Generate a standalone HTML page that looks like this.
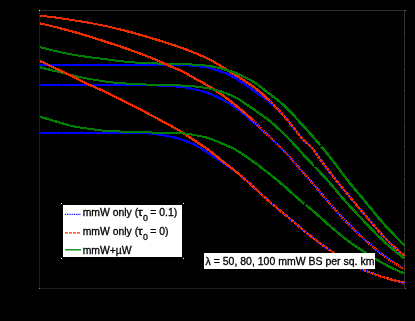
<!DOCTYPE html>
<html><head><meta charset="utf-8">
<style>
html,body{margin:0;padding:0;background:#000;}
body{width:415px;height:321px;overflow:hidden;}
svg{display:block;}
text{font-family:"Liberation Sans",sans-serif;fill:#000;stroke:#000;stroke-width:0.3px;}
.t{filter:grayscale(1);}
</style></head><body>
<svg width="415" height="321" viewBox="0 0 415 321">
<rect x="0" y="0" width="415" height="321" fill="#000"/>
<!-- axes -->
<g shape-rendering="crispEdges">
<rect x="39" y="10" width="1" height="279" fill="#1e1e1e"/>
<rect x="39" y="288" width="367" height="1" fill="#1e1e1e"/>
<rect x="40" y="10" width="365" height="1" fill="#2e2e2e"/>
<rect x="404" y="11" width="1" height="277" fill="#383838"/>
<rect x="404" y="38" width="1" height="1" fill="#000"/>
<rect x="404" y="66" width="1" height="1" fill="#000"/>
<rect x="404" y="93" width="1" height="1" fill="#000"/>
<rect x="404" y="121" width="1" height="1" fill="#000"/>
<rect x="404" y="149" width="1" height="1" fill="#000"/>
<rect x="404" y="176" width="1" height="1" fill="#000"/>
<rect x="404" y="204" width="1" height="1" fill="#000"/>
<rect x="404" y="232" width="1" height="1" fill="#000"/>
<rect x="404" y="259" width="1" height="1" fill="#000"/>
<rect x="39" y="10" width="1" height="1" fill="#e0e0e0"/>
<rect x="405" y="10" width="1" height="1" fill="#707070"/>
<rect x="39" y="288" width="1" height="1" fill="#808080"/>
<rect x="405" y="288" width="1" height="1" fill="#808080"/>
</g>
<g stroke-linejoin="round" shape-rendering="crispEdges">
<path d="M40.0,64.9 L41.0,64.9 L42.0,64.9 L43.0,64.9 L44.0,64.9 L45.0,64.9 L46.0,64.9 L47.0,64.9 L48.0,64.9 L49.0,64.9 L50.0,64.9 L51.0,64.9 L52.0,64.9 L53.0,64.9 L54.0,64.9 L55.0,64.9 L56.0,64.9 L57.0,64.9 L58.0,64.9 L59.0,64.9 L60.0,64.9 L61.0,64.9 L62.0,64.9 L63.0,64.9 L64.0,64.9 L65.0,64.9 L66.0,64.9 L67.0,64.9 L68.0,64.9 L69.0,64.9 L70.0,64.9 L71.0,64.9 L72.0,64.9 L73.0,64.9 L74.0,64.9 L75.0,64.9 L76.0,64.9 L77.0,64.9 L78.0,64.9 L79.0,64.9 L80.0,64.9 L81.0,64.9 L82.0,64.9 L83.0,64.9 L84.0,64.9 L85.0,64.9 L86.0,64.9 L87.0,64.9 L88.0,64.9 L89.0,64.9 L90.0,64.9 L91.0,64.9 L92.0,64.9 L93.0,64.9 L94.0,64.9 L95.0,64.9 L96.0,64.9 L97.0,64.9 L98.0,64.9 L99.0,64.9 L100.0,64.9 L101.0,64.9 L102.0,64.9 L103.0,64.9 L104.0,64.9 L105.0,64.9 L106.0,64.9 L107.0,64.9 L108.0,64.9 L109.0,64.9 L110.0,64.9 L111.0,64.9 L112.0,64.9 L113.0,64.9 L114.0,64.9 L115.0,64.9 L116.0,64.9 L117.0,64.9 L118.0,64.9 L119.0,64.9 L120.0,64.9 L121.0,64.9 L122.0,64.9 L123.0,64.9 L124.0,64.9 L125.0,64.9 L126.0,64.9 L127.0,64.9 L128.0,64.9 L129.0,64.9 L130.0,64.9 L131.0,64.9 L132.0,64.9 L133.0,64.9 L134.0,64.9 L135.0,64.9 L136.0,64.9 L137.0,64.9 L138.0,64.9 L139.0,64.9 L140.0,64.9 L141.0,64.9 L142.0,64.9 L143.0,64.9 L144.0,64.9 L145.0,64.9 L146.0,64.9 L147.0,64.9 L148.0,64.9 L149.0,64.9 L150.0,64.9 L151.0,64.9 L152.0,64.9 L153.0,64.9 L154.0,64.9 L155.0,64.9 L156.0,64.9 L157.0,64.9 L158.0,64.9 L159.0,64.9 L160.0,64.9 L161.0,64.9 L162.0,64.9 L163.0,64.9 L164.0,64.9 L165.0,64.9 L166.0,64.9 L167.0,64.9 L168.0,64.9 L169.0,64.9 L170.0,64.9 L171.0,64.9 L172.0,64.9 L173.0,64.9 L174.0,64.9 L175.0,64.9 L176.0,64.9 L177.0,64.9 L178.0,65.0 L179.0,65.0 L180.0,65.0 L181.0,65.1 L182.0,65.1 L183.0,65.1 L184.0,65.2 L185.0,65.2 L186.0,65.3 L187.0,65.4 L188.0,65.4 L189.0,65.5 L190.0,65.6 L191.0,65.7 L192.0,65.7 L193.0,65.8 L194.0,65.9 L195.0,66.0 L196.0,66.1 L197.0,66.2 L198.0,66.3 L199.0,66.4 L200.0,66.5 L201.0,66.6 L202.0,66.8 L203.0,66.9 L204.0,67.0 L205.0,67.2 L206.0,67.4 L207.0,67.5 L208.0,67.7 L209.0,67.9 L210.0,68.1 L211.0,68.3 L212.0,68.6 L213.0,68.9 L214.0,69.2 L215.0,69.5 L216.0,69.8 L217.0,70.1 L218.0,70.5 L219.0,70.8 L220.0,71.2 L221.0,71.5 L222.0,71.9 L223.0,72.2 L224.0,72.6 L225.0,73.0 L226.0,73.4 L227.0,73.8 L228.0,74.2 L229.0,74.6 L230.0,75.1 L231.0,75.6 L232.0,76.1 L233.0,76.6 L234.0,77.1 L235.0,77.7 L236.0,78.3 L237.0,79.0 L238.0,79.7 L239.0,80.4 L240.0,81.1 L241.0,81.8 L242.0,82.5 L243.0,83.2 L244.0,83.9 L245.0,84.6 L246.0,85.3 L247.0,85.9 L248.0,86.6 L249.0,87.3 L250.0,88.0 L251.0,88.7 L252.0,89.4 L253.0,90.1 L254.0,90.8 L255.0,91.6 L256.0,92.3 L257.0,93.0 L258.0,93.7 L259.0,94.4 L260.0,95.1 L261.0,95.8 L262.0,96.5 L263.0,97.2 L264.0,97.9 L265.0,98.6 L265.3,98.8 L266.0,99.3 L267.0,100.1 L268.0,100.9 L269.0,101.7 L270.0,102.6 L271.0,103.4 L272.0,104.3 L273.0,105.2 L274.0,106.2" fill="none" stroke="#0000ff" stroke-width="2"/>
<path d="M212.0,68.6 L213.0,68.9 L214.0,69.2 L215.0,69.5 L216.0,69.8 L217.0,70.1 L218.0,70.5 L219.0,70.8 L220.0,71.2 L221.0,71.5 L222.0,71.9 L223.0,72.2 L224.0,72.6 L225.0,73.0 L226.0,73.4 L227.0,73.8 L228.0,74.2 L229.0,74.6 L230.0,75.1 L231.0,75.6 L232.0,76.1 L233.0,76.6 L234.0,77.1 L235.0,77.7 L236.0,78.3 L237.0,79.0 L238.0,79.7 L239.0,80.4 L240.0,81.1 L241.0,81.8 L242.0,82.5 L243.0,83.2 L244.0,83.9 L245.0,84.6 L246.0,85.3 L247.0,85.9 L248.0,86.6 L249.0,87.3 L250.0,88.0 L251.0,88.7 L252.0,89.4 L253.0,90.1 L254.0,90.8 L255.0,91.6 L256.0,92.3 L257.0,93.0 L258.0,93.7 L259.0,94.4 L260.0,95.1 L261.0,95.8 L262.0,96.5 L263.0,97.2 L264.0,97.9 L265.0,98.6 L265.3,98.8 L266.0,99.3 L267.0,100.1 L268.0,100.9 L269.0,101.7 L270.0,102.6 L271.0,103.4 L272.0,104.3 L273.0,105.2 L274.0,106.2" fill="none" stroke="#0000ff" stroke-width="2.25"/>
<path d="M235.0,77.7 L236.0,78.3 L237.0,79.0 L238.0,79.7 L239.0,80.4 L240.0,81.1 L241.0,81.8 L242.0,82.5 L243.0,83.2 L244.0,83.9 L245.0,84.6 L246.0,85.3 L247.0,85.9 L248.0,86.6 L249.0,87.3 L250.0,88.0 L251.0,88.7 L252.0,89.4 L253.0,90.1 L254.0,90.8 L255.0,91.6 L256.0,92.3 L257.0,93.0 L258.0,93.7 L259.0,94.4 L260.0,95.1 L261.0,95.8 L262.0,96.5 L263.0,97.2 L264.0,97.9 L265.0,98.6 L265.3,98.8 L266.0,99.3 L267.0,100.1 L268.0,100.9 L269.0,101.7 L270.0,102.6 L271.0,103.4 L272.0,104.3 L273.0,105.2 L274.0,106.2" fill="none" stroke="#0000ff" stroke-width="2.5"/>
<path d="M274.0,106.2 L275.0,107.1 L276.0,108.0 L277.0,109.0 L278.0,110.0 L279.0,111.0 L280.0,112.0 L281.0,113.0 L282.0,114.1 L283.0,115.1 L284.0,116.2 L285.0,117.3 L286.0,118.4 L287.0,119.5 L288.0,120.7 L289.0,121.9 L290.0,123.1 L291.0,124.4 L292.0,125.7 L293.0,127.0 L294.0,128.3 L295.0,129.6 L296.0,130.9 L297.0,132.2 L298.0,133.5 L299.0,134.8 L300.0,136.0 L301.0,137.2 L302.0,138.4 L303.0,139.5 L304.0,140.5 L305.0,141.5 L306.0,142.4 L307.0,143.3 L308.0,144.1 L309.0,145.0 L310.0,145.9 L311.0,146.9 L312.0,148.0 L313.0,149.2 L314.0,150.5 L315.0,151.9 L316.0,153.3 L317.0,154.8 L318.0,156.3 L319.0,157.7 L320.0,159.2 L321.0,160.5 L322.0,161.9 L323.0,163.2 L324.0,164.6 L325.0,165.9 L326.0,167.2 L327.0,168.5 L328.0,169.8 L329.0,171.1 L330.0,172.4 L331.0,173.7 L332.0,175.0 L333.0,176.3 L334.0,177.6 L335.0,178.8 L336.0,180.1 L337.0,181.4 L338.0,182.6 L339.0,183.8 L340.0,185.1 L341.0,186.3 L342.0,187.5 L343.0,188.7 L344.0,189.9 L345.0,191.1 L346.0,192.3 L347.0,193.5 L348.0,194.7 L349.0,195.9 L350.0,197.1 L351.0,198.3 L352.0,199.5 L353.0,200.7 L354.0,201.9 L355.0,203.1 L356.0,204.3 L357.0,205.5 L358.0,206.7 L359.0,207.9 L360.0,209.1 L361.0,210.3 L362.0,211.5 L363.0,212.6 L364.0,213.8 L365.0,215.0 L366.0,216.1 L367.0,217.3 L368.0,218.5 L369.0,219.7 L370.0,220.9 L371.0,222.1 L372.0,223.3 L373.0,224.5 L374.0,225.6 L375.0,226.8 L376.0,228.0 L377.0,229.1 L378.0,230.3 L379.0,231.4 L380.0,232.6 L381.0,233.7 L382.0,234.8 L383.0,235.9 L384.0,236.9 L385.0,238.0 L386.0,239.0 L387.0,240.0 L388.0,241.0 L389.0,242.0 L390.0,242.9 L391.0,243.9 L392.0,244.8 L393.0,245.8 L394.0,246.7 L395.0,247.6 L396.0,248.5 L397.0,249.4 L398.0,250.2 L399.0,251.1 L400.0,251.9 L401.0,252.8 L402.0,253.6 L403.0,254.4 L404.0,255.2 L404.5,255.6" fill="none" stroke="#0000ff" stroke-width="2.2"/>
<path d="M40.0,15.7 L41.0,15.8 L42.0,15.9 L43.0,16.1 L44.0,16.2 L45.0,16.3 L46.0,16.4 L47.0,16.5 L48.0,16.6 L49.0,16.8 L50.0,16.9 L51.0,17.0 L52.0,17.1 L53.0,17.2 L54.0,17.3 L55.0,17.4 L56.0,17.6 L57.0,17.7 L58.0,17.9 L59.0,18.0 L60.0,18.2 L61.0,18.3 L62.0,18.5 L63.0,18.6 L64.0,18.7 L65.0,18.9 L66.0,19.0 L67.0,19.2 L68.0,19.3 L69.0,19.5 L70.0,19.6 L71.0,19.8 L72.0,20.0 L73.0,20.2 L74.0,20.4 L75.0,20.5 L76.0,20.7 L77.0,20.8 L78.0,20.9 L79.0,21.1 L80.0,21.3 L81.0,21.4 L82.0,21.6 L83.0,21.8 L84.0,21.9 L85.0,22.1 L86.0,22.3 L87.0,22.4 L88.0,22.6 L89.0,22.8 L90.0,23.0 L91.0,23.2 L92.0,23.3 L93.0,23.5 L94.0,23.7 L95.0,23.9 L96.0,24.1 L97.0,24.3 L98.0,24.5 L99.0,24.7 L100.0,24.9 L101.0,25.1 L102.0,25.3 L103.0,25.5 L104.0,25.7 L105.0,25.9 L106.0,26.1 L107.0,26.3 L108.0,26.6 L109.0,26.8 L110.0,27.0 L111.0,27.2 L112.0,27.5 L113.0,27.7 L114.0,27.9 L115.0,28.2 L116.0,28.4 L117.0,28.7 L118.0,28.9 L119.0,29.2 L120.0,29.4 L121.0,29.7 L122.0,29.9 L123.0,30.2 L124.0,30.4 L125.0,30.7 L126.0,31.0 L127.0,31.2 L128.0,31.5 L129.0,31.7 L130.0,32.0 L131.0,32.3 L132.0,32.5 L133.0,32.8 L134.0,33.1 L135.0,33.4 L136.0,33.6 L137.0,33.9 L138.0,34.2 L139.0,34.5 L140.0,34.8 L141.0,35.0 L142.0,35.3 L143.0,35.6 L144.0,35.9 L145.0,36.2 L146.0,36.5 L147.0,36.8 L148.0,37.1 L149.0,37.4 L150.0,37.7 L151.0,38.0 L152.0,38.3 L153.0,38.6 L154.0,38.9 L155.0,39.2 L156.0,39.5 L157.0,39.8 L158.0,40.2 L159.0,40.5 L160.0,40.8 L161.0,41.1 L162.0,41.4 L163.0,41.7 L164.0,42.0 L165.0,42.3 L166.0,42.6 L167.0,42.9 L168.0,43.3 L169.0,43.6 L170.0,43.9 L171.0,44.2 L172.0,44.6 L173.0,44.9 L174.0,45.2 L175.0,45.5 L176.0,45.9 L177.0,46.2 L178.0,46.6 L179.0,46.9 L180.0,47.3 L181.0,47.6 L182.0,48.0 L183.0,48.4 L184.0,48.7 L185.0,49.1 L186.0,49.5 L187.0,49.9 L188.0,50.2 L189.0,50.6 L190.0,51.0 L191.0,51.4 L192.0,51.8 L193.0,52.2 L194.0,52.6 L195.0,53.0 L196.0,53.4 L197.0,53.8 L198.0,54.3 L199.0,54.7 L200.0,55.1 L201.0,55.6 L202.0,56.0 L203.0,56.4 L204.0,56.9 L205.0,57.4 L206.0,57.8 L207.0,58.3 L208.0,58.8 L209.0,59.3 L210.0,59.8 L211.0,60.3 L212.0,60.9 L213.0,61.4 L214.0,62.0 L215.0,62.5 L216.0,63.1 L217.0,63.7 L218.0,64.3 L219.0,64.9 L220.0,65.5 L221.0,66.1 L222.0,66.7 L223.0,67.4 L224.0,68.0 L225.0,68.6 L226.0,69.2 L227.0,69.9 L228.0,70.5 L229.0,71.1 L230.0,71.7 L231.0,72.4 L232.0,73.0 L233.0,73.6 L234.0,74.2 L235.0,74.8 L236.0,75.4 L237.0,76.0 L238.0,76.6 L239.0,77.2 L240.0,77.8 L241.0,78.5 L242.0,79.1 L243.0,79.7 L244.0,80.4 L245.0,81.1 L246.0,81.7 L247.0,82.4 L248.0,83.1 L249.0,83.8 L250.0,84.4 L251.0,85.1 L252.0,85.9 L253.0,86.6 L254.0,87.3 L255.0,88.1 L256.0,88.8 L257.0,89.6 L258.0,90.4 L259.0,91.2 L260.0,92.0 L261.0,92.8 L262.0,93.7 L263.0,94.6 L264.0,95.5 L265.0,96.4 L266.0,97.3 L267.0,98.3 L268.0,99.2" fill="none" stroke="#ec2e00" stroke-width="2"/>
<path d="M120.0,29.4 L121.0,29.7 L122.0,29.9 L123.0,30.2 L124.0,30.4 L125.0,30.7 L126.0,31.0 L127.0,31.2 L128.0,31.5 L129.0,31.7 L130.0,32.0 L131.0,32.3 L132.0,32.5 L133.0,32.8 L134.0,33.1 L135.0,33.4 L136.0,33.6 L137.0,33.9 L138.0,34.2 L139.0,34.5 L140.0,34.8 L141.0,35.0 L142.0,35.3 L143.0,35.6 L144.0,35.9 L145.0,36.2 L146.0,36.5 L147.0,36.8 L148.0,37.1 L149.0,37.4 L150.0,37.7 L151.0,38.0 L152.0,38.3 L153.0,38.6 L154.0,38.9 L155.0,39.2 L156.0,39.5 L157.0,39.8 L158.0,40.2 L159.0,40.5 L160.0,40.8 L161.0,41.1 L162.0,41.4 L163.0,41.7 L164.0,42.0 L165.0,42.3 L166.0,42.6 L167.0,42.9 L168.0,43.3 L169.0,43.6 L170.0,43.9 L171.0,44.2 L172.0,44.6 L173.0,44.9 L174.0,45.2 L175.0,45.5 L176.0,45.9 L177.0,46.2 L178.0,46.6 L179.0,46.9 L180.0,47.3 L181.0,47.6 L182.0,48.0 L183.0,48.4 L184.0,48.7 L185.0,49.1 L186.0,49.5 L187.0,49.9 L188.0,50.2 L189.0,50.6 L190.0,51.0 L191.0,51.4 L192.0,51.8 L193.0,52.2 L194.0,52.6 L195.0,53.0 L196.0,53.4 L197.0,53.8 L198.0,54.3 L199.0,54.7 L200.0,55.1 L201.0,55.6 L202.0,56.0 L203.0,56.4 L204.0,56.9 L205.0,57.4 L206.0,57.8 L207.0,58.3 L208.0,58.8 L209.0,59.3 L210.0,59.8 L211.0,60.3 L212.0,60.9 L213.0,61.4 L214.0,62.0 L215.0,62.5 L216.0,63.1 L217.0,63.7 L218.0,64.3 L219.0,64.9 L220.0,65.5 L221.0,66.1 L222.0,66.7 L223.0,67.4 L224.0,68.0 L225.0,68.6 L226.0,69.2 L227.0,69.9 L228.0,70.5 L229.0,71.1 L230.0,71.7 L231.0,72.4 L232.0,73.0 L233.0,73.6 L234.0,74.2 L235.0,74.8 L236.0,75.4 L237.0,76.0 L238.0,76.6 L239.0,77.2 L240.0,77.8 L241.0,78.5 L242.0,79.1 L243.0,79.7 L244.0,80.4 L245.0,81.1 L246.0,81.7 L247.0,82.4 L248.0,83.1 L249.0,83.8 L250.0,84.4 L251.0,85.1 L252.0,85.9 L253.0,86.6 L254.0,87.3 L255.0,88.1 L256.0,88.8 L257.0,89.6 L258.0,90.4 L259.0,91.2 L260.0,92.0 L261.0,92.8 L262.0,93.7 L263.0,94.6 L264.0,95.5 L265.0,96.4 L266.0,97.3 L267.0,98.3 L268.0,99.2" fill="none" stroke="#ec2e00" stroke-width="2.25"/>
<path d="M219.0,64.9 L220.0,65.5 L221.0,66.1 L222.0,66.7 L223.0,67.4 L224.0,68.0 L225.0,68.6 L226.0,69.2 L227.0,69.9 L228.0,70.5 L229.0,71.1 L230.0,71.7 L231.0,72.4 L232.0,73.0 L233.0,73.6 L234.0,74.2 L235.0,74.8 L236.0,75.4 L237.0,76.0 L238.0,76.6 L239.0,77.2 L240.0,77.8 L241.0,78.5 L242.0,79.1 L243.0,79.7 L244.0,80.4 L245.0,81.1 L246.0,81.7 L247.0,82.4 L248.0,83.1 L249.0,83.8 L250.0,84.4 L251.0,85.1 L252.0,85.9 L253.0,86.6 L254.0,87.3 L255.0,88.1 L256.0,88.8 L257.0,89.6 L258.0,90.4 L259.0,91.2 L260.0,92.0 L261.0,92.8 L262.0,93.7 L263.0,94.6 L264.0,95.5 L265.0,96.4 L266.0,97.3 L267.0,98.3 L268.0,99.2" fill="none" stroke="#ec2e00" stroke-width="2.5"/>
<path d="M268.0,99.2 L269.0,100.2 L270.0,101.2 L271.0,102.2 L272.0,103.2 L273.0,104.2 L274.0,105.2 L275.0,106.3 L276.0,107.3 L277.0,108.4 L278.0,109.5 L279.0,110.6 L280.0,111.6 L281.0,112.7 L282.0,113.8 L283.0,115.0 L284.0,116.1 L285.0,117.2 L286.0,118.3 L287.0,119.4 L288.0,120.6 L289.0,121.9 L290.0,123.1 L291.0,124.4 L292.0,125.7 L293.0,127.0 L294.0,128.3 L295.0,129.6 L296.0,130.9 L297.0,132.2 L298.0,133.5 L299.0,134.8 L300.0,136.0 L301.0,137.2 L302.0,138.4 L303.0,139.5 L304.0,140.5 L305.0,141.5 L306.0,142.4 L307.0,143.3 L308.0,144.1 L309.0,145.0 L310.0,145.9 L311.0,146.9 L312.0,148.0 L313.0,149.2 L314.0,150.5 L315.0,151.9 L316.0,153.3 L317.0,154.8 L318.0,156.3 L319.0,157.7 L320.0,159.2 L321.0,160.5 L322.0,161.9 L323.0,163.2 L324.0,164.6 L325.0,165.9 L326.0,167.2 L327.0,168.5 L328.0,169.8 L329.0,171.1 L330.0,172.4 L331.0,173.7 L332.0,175.0 L333.0,176.3 L334.0,177.6 L335.0,178.8 L336.0,180.1 L337.0,181.4 L338.0,182.6 L339.0,183.8 L340.0,185.1 L341.0,186.3 L342.0,187.5 L343.0,188.7 L344.0,189.9 L345.0,191.1 L346.0,192.3 L347.0,193.5 L348.0,194.7 L349.0,195.9 L350.0,197.1 L351.0,198.3 L352.0,199.5 L353.0,200.7 L354.0,201.9 L355.0,203.1 L356.0,204.3 L357.0,205.5 L358.0,206.7 L359.0,207.9 L360.0,209.1 L361.0,210.3 L362.0,211.5 L363.0,212.6 L364.0,213.8 L365.0,215.0 L366.0,216.1 L367.0,217.3 L368.0,218.5 L369.0,219.7 L370.0,220.9 L371.0,222.1 L372.0,223.3 L373.0,224.5 L374.0,225.6 L375.0,226.8 L376.0,228.0 L377.0,229.1 L378.0,230.3 L379.0,231.4 L380.0,232.6 L381.0,233.7 L382.0,234.8 L383.0,235.9 L384.0,236.9 L385.0,238.0 L386.0,239.0 L387.0,240.0 L388.0,241.0 L389.0,242.0 L390.0,242.9 L391.0,243.9 L392.0,244.8 L393.0,245.8 L394.0,246.7 L395.0,247.6 L396.0,248.5 L397.0,249.4 L398.0,250.2 L399.0,251.1 L400.0,251.9 L401.0,252.8 L402.0,253.6 L403.0,254.4 L404.0,255.2 L404.5,255.6" fill="none" stroke="#ec2e00" stroke-width="2.5" stroke-dasharray="3 0.8"/>
<path d="M40.0,47.1 L41.0,47.4 L42.0,47.6 L43.0,47.9 L44.0,48.2 L45.0,48.4 L46.0,48.7 L47.0,48.9 L48.0,49.2 L49.0,49.4 L50.0,49.7 L51.0,49.9 L52.0,50.2 L53.0,50.4 L54.0,50.7 L55.0,50.9 L56.0,51.1 L57.0,51.4 L58.0,51.6 L59.0,51.8 L60.0,52.0 L61.0,52.2 L62.0,52.5 L63.0,52.7 L64.0,52.9 L65.0,53.1 L66.0,53.3 L67.0,53.5 L68.0,53.7 L69.0,53.9 L70.0,54.1 L71.0,54.3 L72.0,54.5 L73.0,54.6 L74.0,54.8 L75.0,55.0 L76.0,55.2 L77.0,55.3 L78.0,55.5 L79.0,55.7 L80.0,55.8 L81.0,56.0 L82.0,56.1 L83.0,56.3 L84.0,56.4 L85.0,56.6 L86.0,56.7 L87.0,56.8 L88.0,57.0 L89.0,57.1 L90.0,57.2 L91.0,57.4 L92.0,57.5 L93.0,57.6 L94.0,57.8 L95.0,57.9 L96.0,58.0 L97.0,58.1 L98.0,58.3 L99.0,58.4 L100.0,58.5 L101.0,58.6 L102.0,58.7 L103.0,58.9 L104.0,59.0 L105.0,59.1 L106.0,59.3 L107.0,59.4 L108.0,59.5 L109.0,59.7 L110.0,59.8 L111.0,59.9 L112.0,60.1 L113.0,60.2 L114.0,60.3 L115.0,60.5 L116.0,60.6 L117.0,60.7 L118.0,60.8 L119.0,61.0 L120.0,61.1 L121.0,61.2 L122.0,61.3 L123.0,61.4 L124.0,61.5 L125.0,61.6 L126.0,61.7 L127.0,61.8 L128.0,61.9 L129.0,62.0 L130.0,62.1 L131.0,62.2 L132.0,62.3 L133.0,62.3 L134.0,62.4 L135.0,62.5 L136.0,62.5 L137.0,62.6 L138.0,62.7 L139.0,62.7 L140.0,62.8 L141.0,62.8 L142.0,62.9 L143.0,62.9 L144.0,63.0 L145.0,63.0 L146.0,63.1 L147.0,63.1 L148.0,63.2 L149.0,63.2 L150.0,63.2 L151.0,63.3 L152.0,63.3 L153.0,63.3 L154.0,63.4 L155.0,63.4 L156.0,63.4 L157.0,63.4 L158.0,63.5 L159.0,63.5 L160.0,63.5 L161.0,63.5 L162.0,63.5 L163.0,63.6 L164.0,63.6 L165.0,63.6 L166.0,63.6 L167.0,63.6 L168.0,63.6 L169.0,63.7 L170.0,63.7 L171.0,63.7 L172.0,63.7 L173.0,63.7 L174.0,63.8 L175.0,63.8 L176.0,63.8 L177.0,63.8 L178.0,63.9 L179.0,63.9 L180.0,63.9 L181.0,64.0 L182.0,64.0 L183.0,64.0 L184.0,64.1 L185.0,64.1 L186.0,64.2 L187.0,64.2 L188.0,64.3 L189.0,64.3 L190.0,64.4 L191.0,64.4 L192.0,64.5 L193.0,64.5 L194.0,64.6 L195.0,64.7 L196.0,64.7 L197.0,64.8 L198.0,64.9 L199.0,65.0 L200.0,65.0 L201.0,65.1 L202.0,65.2 L203.0,65.3 L204.0,65.4 L205.0,65.5 L206.0,65.6 L207.0,65.7 L208.0,65.8 L209.0,65.9 L210.0,66.1 L211.0,66.2 L212.0,66.4 L213.0,66.6 L214.0,66.8 L215.0,67.0 L216.0,67.3 L217.0,67.5 L218.0,67.8 L219.0,68.0 L220.0,68.3 L221.0,68.5 L222.0,68.7 L223.0,69.0 L224.0,69.3 L225.0,69.5 L226.0,69.8 L227.0,70.1 L228.0,70.4 L229.0,70.7 L230.0,71.0 L231.0,71.4 L232.0,71.7 L233.0,72.0 L234.0,72.4 L235.0,72.8 L236.0,73.2 L237.0,73.5 L238.0,74.0 L239.0,74.4 L240.0,74.8 L241.0,75.3 L242.0,75.7 L243.0,76.2 L244.0,76.7 L245.0,77.2 L246.0,77.7 L247.0,78.2 L248.0,78.7 L249.0,79.3 L250.0,79.8 L251.0,80.4 L252.0,81.0 L253.0,81.6 L254.0,82.3 L255.0,82.9 L256.0,83.6 L257.0,84.3 L258.0,85.0 L259.0,85.8 L260.0,86.5 L261.0,87.3 L262.0,88.0 L263.0,88.8 L264.0,89.6 L265.0,90.4 L266.0,91.1 L267.0,91.9 L268.0,92.7 L269.0,93.4 L270.0,94.2 L271.0,94.9 L272.0,95.7 L273.0,96.5 L274.0,97.2 L275.0,98.0 L276.0,98.8 L277.0,99.6 L278.0,100.4 L279.0,101.2 L280.0,102.0 L281.0,102.9 L282.0,103.7 L283.0,104.6 L284.0,105.5 L285.0,106.4 L286.0,107.3 L287.0,108.3 L288.0,109.2 L289.0,110.3 L290.0,111.3 L291.0,112.4 L292.0,113.5 L293.0,114.6 L294.0,115.7 L295.0,116.8 L296.0,117.9 L297.0,119.0 L298.0,120.1 L299.0,121.2 L300.0,122.3 L301.0,123.4 L302.0,124.5 L303.0,125.5 L304.0,126.6 L305.0,127.7 L306.0,128.8 L307.0,129.9 L308.0,131.1 L309.0,132.2 L310.0,133.3 L311.0,134.5 L312.0,135.6 L313.0,136.8 L314.0,137.9 L315.0,139.1 L316.0,140.3 L317.0,141.4 L318.0,142.6 L319.0,143.8 L320.0,145.0 L321.0,146.2 L322.0,147.4 L323.0,148.6 L324.0,149.8 L325.0,151.0 L326.0,152.3 L327.0,153.5 L328.0,154.7 L329.0,156.0 L330.0,157.2 L331.0,158.5 L332.0,159.7 L333.0,161.0 L334.0,162.3 L335.0,163.6 L336.0,164.9 L337.0,166.3 L338.0,167.6 L339.0,169.0 L340.0,170.3 L341.0,171.7 L342.0,173.0 L343.0,174.3 L344.0,175.7 L345.0,177.0 L346.0,178.3 L347.0,179.6 L348.0,180.9 L349.0,182.1 L350.0,183.4 L351.0,184.6 L352.0,185.8 L353.0,187.0 L354.0,188.2 L355.0,189.4 L356.0,190.5 L357.0,191.7 L358.0,192.9 L359.0,194.1 L360.0,195.2 L361.0,196.4 L362.0,197.6 L363.0,198.8 L364.0,200.0 L365.0,201.2 L366.0,202.4 L367.0,203.7 L368.0,204.9 L369.0,206.1 L370.0,207.4 L371.0,208.6 L372.0,209.8 L373.0,211.1 L374.0,212.3 L375.0,213.5 L376.0,214.8 L377.0,216.0 L378.0,217.2 L379.0,218.4 L380.0,219.5 L381.0,220.7 L382.0,221.8 L383.0,222.9 L384.0,224.1 L385.0,225.2 L386.0,226.3 L387.0,227.4 L388.0,228.4 L389.0,229.5 L390.0,230.6 L391.0,231.6 L392.0,232.7 L393.0,233.7 L394.0,234.8 L395.0,235.8 L396.0,236.9 L397.0,237.9 L398.0,239.0 L399.0,240.0 L400.0,241.0 L401.0,242.1 L402.0,243.1 L403.0,244.1 L404.0,245.1 L404.5,245.6" fill="none" stroke="#008000" stroke-width="2"/>
<path d="M40.0,47.1 L41.0,47.4 L42.0,47.6 L43.0,47.9 L44.0,48.2 L45.0,48.4 L46.0,48.7 L47.0,48.9 L48.0,49.2" fill="none" stroke="#008000" stroke-width="2.25"/>
<path d="M222.0,68.7 L223.0,69.0 L224.0,69.3 L225.0,69.5 L226.0,69.8 L227.0,70.1 L228.0,70.4 L229.0,70.7 L230.0,71.0 L231.0,71.4 L232.0,71.7 L233.0,72.0 L234.0,72.4 L235.0,72.8 L236.0,73.2 L237.0,73.5 L238.0,74.0 L239.0,74.4 L240.0,74.8 L241.0,75.3 L242.0,75.7 L243.0,76.2 L244.0,76.7 L245.0,77.2 L246.0,77.7 L247.0,78.2 L248.0,78.7 L249.0,79.3 L250.0,79.8 L251.0,80.4 L252.0,81.0 L253.0,81.6 L254.0,82.3 L255.0,82.9 L256.0,83.6 L257.0,84.3 L258.0,85.0 L259.0,85.8 L260.0,86.5 L261.0,87.3 L262.0,88.0 L263.0,88.8 L264.0,89.6 L265.0,90.4 L266.0,91.1 L267.0,91.9 L268.0,92.7 L269.0,93.4 L270.0,94.2 L271.0,94.9 L272.0,95.7 L273.0,96.5 L274.0,97.2 L275.0,98.0 L276.0,98.8 L277.0,99.6 L278.0,100.4 L279.0,101.2 L280.0,102.0 L281.0,102.9 L282.0,103.7 L283.0,104.6 L284.0,105.5 L285.0,106.4 L286.0,107.3 L287.0,108.3 L288.0,109.2 L289.0,110.3 L290.0,111.3 L291.0,112.4 L292.0,113.5 L293.0,114.6 L294.0,115.7 L295.0,116.8 L296.0,117.9 L297.0,119.0 L298.0,120.1 L299.0,121.2 L300.0,122.3 L301.0,123.4 L302.0,124.5 L303.0,125.5 L304.0,126.6 L305.0,127.7 L306.0,128.8 L307.0,129.9 L308.0,131.1 L309.0,132.2 L310.0,133.3 L311.0,134.5 L312.0,135.6 L313.0,136.8 L314.0,137.9 L315.0,139.1 L316.0,140.3 L317.0,141.4 L318.0,142.6 L319.0,143.8 L320.0,145.0 L321.0,146.2 L322.0,147.4 L323.0,148.6 L324.0,149.8 L325.0,151.0 L326.0,152.3 L327.0,153.5 L328.0,154.7 L329.0,156.0 L330.0,157.2 L331.0,158.5 L332.0,159.7 L333.0,161.0 L334.0,162.3 L335.0,163.6 L336.0,164.9 L337.0,166.3 L338.0,167.6 L339.0,169.0 L340.0,170.3 L341.0,171.7 L342.0,173.0 L343.0,174.3 L344.0,175.7 L345.0,177.0 L346.0,178.3 L347.0,179.6 L348.0,180.9 L349.0,182.1 L350.0,183.4 L351.0,184.6 L352.0,185.8 L353.0,187.0 L354.0,188.2 L355.0,189.4 L356.0,190.5 L357.0,191.7 L358.0,192.9 L359.0,194.1 L360.0,195.2 L361.0,196.4 L362.0,197.6 L363.0,198.8 L364.0,200.0 L365.0,201.2 L366.0,202.4 L367.0,203.7 L368.0,204.9 L369.0,206.1 L370.0,207.4 L371.0,208.6 L372.0,209.8 L373.0,211.1 L374.0,212.3 L375.0,213.5 L376.0,214.8 L377.0,216.0 L378.0,217.2 L379.0,218.4 L380.0,219.5 L381.0,220.7 L382.0,221.8 L383.0,222.9 L384.0,224.1 L385.0,225.2 L386.0,226.3 L387.0,227.4 L388.0,228.4 L389.0,229.5 L390.0,230.6 L391.0,231.6 L392.0,232.7 L393.0,233.7 L394.0,234.8 L395.0,235.8 L396.0,236.9 L397.0,237.9 L398.0,239.0 L399.0,240.0 L400.0,241.0 L401.0,242.1 L402.0,243.1 L403.0,244.1 L404.0,245.1 L404.5,245.6" fill="none" stroke="#008000" stroke-width="2.25"/>
<path d="M252.0,81.0 L253.0,81.6 L254.0,82.3 L255.0,82.9 L256.0,83.6 L257.0,84.3 L258.0,85.0 L259.0,85.8 L260.0,86.5 L261.0,87.3 L262.0,88.0 L263.0,88.8 L264.0,89.6 L265.0,90.4 L266.0,91.1 L267.0,91.9 L268.0,92.7 L269.0,93.4 L270.0,94.2 L271.0,94.9 L272.0,95.7 L273.0,96.5 L274.0,97.2 L275.0,98.0 L276.0,98.8 L277.0,99.6 L278.0,100.4 L279.0,101.2 L280.0,102.0 L281.0,102.9 L282.0,103.7 L283.0,104.6 L284.0,105.5 L285.0,106.4 L286.0,107.3 L287.0,108.3 L288.0,109.2 L289.0,110.3 L290.0,111.3 L291.0,112.4 L292.0,113.5 L293.0,114.6 L294.0,115.7 L295.0,116.8 L296.0,117.9 L297.0,119.0 L298.0,120.1 L299.0,121.2 L300.0,122.3 L301.0,123.4 L302.0,124.5 L303.0,125.5 L304.0,126.6 L305.0,127.7 L306.0,128.8 L307.0,129.9 L308.0,131.1 L309.0,132.2 L310.0,133.3 L311.0,134.5 L312.0,135.6 L313.0,136.8 L314.0,137.9 L315.0,139.1 L316.0,140.3 L317.0,141.4 L318.0,142.6 L319.0,143.8 L320.0,145.0 L321.0,146.2 L322.0,147.4 L323.0,148.6 L324.0,149.8 L325.0,151.0 L326.0,152.3 L327.0,153.5 L328.0,154.7 L329.0,156.0 L330.0,157.2 L331.0,158.5 L332.0,159.7 L333.0,161.0 L334.0,162.3 L335.0,163.6 L336.0,164.9 L337.0,166.3 L338.0,167.6 L339.0,169.0 L340.0,170.3 L341.0,171.7 L342.0,173.0 L343.0,174.3 L344.0,175.7 L345.0,177.0 L346.0,178.3 L347.0,179.6 L348.0,180.9 L349.0,182.1 L350.0,183.4 L351.0,184.6 L352.0,185.8 L353.0,187.0 L354.0,188.2 L355.0,189.4 L356.0,190.5 L357.0,191.7 L358.0,192.9 L359.0,194.1 L360.0,195.2 L361.0,196.4 L362.0,197.6 L363.0,198.8 L364.0,200.0 L365.0,201.2 L366.0,202.4 L367.0,203.7 L368.0,204.9 L369.0,206.1 L370.0,207.4 L371.0,208.6 L372.0,209.8 L373.0,211.1 L374.0,212.3 L375.0,213.5 L376.0,214.8 L377.0,216.0 L378.0,217.2 L379.0,218.4 L380.0,219.5 L381.0,220.7 L382.0,221.8 L383.0,222.9 L384.0,224.1 L385.0,225.2 L386.0,226.3 L387.0,227.4 L388.0,228.4 L389.0,229.5 L390.0,230.6 L391.0,231.6 L392.0,232.7 L393.0,233.7 L394.0,234.8 L395.0,235.8 L396.0,236.9 L397.0,237.9 L398.0,239.0 L399.0,240.0 L400.0,241.0 L401.0,242.1 L402.0,243.1 L403.0,244.1 L404.0,245.1 L404.5,245.6" fill="none" stroke="#008000" stroke-width="2.5"/>
<path d="M40.0,85.0 L41.0,85.0 L42.0,85.0 L43.0,85.0 L44.0,85.0 L45.0,85.0 L46.0,85.0 L47.0,85.0 L48.0,85.0 L49.0,85.0 L50.0,85.0 L51.0,85.0 L52.0,85.0 L53.0,85.0 L54.0,85.0 L55.0,85.0 L56.0,85.0 L57.0,85.0 L58.0,85.0 L59.0,85.0 L60.0,85.0 L61.0,85.0 L62.0,85.0 L63.0,85.0 L64.0,85.0 L65.0,85.0 L66.0,85.0 L67.0,85.0 L68.0,85.0 L69.0,85.0 L70.0,85.0 L71.0,85.0 L72.0,85.0 L73.0,85.0 L74.0,85.0 L75.0,85.0 L76.0,85.0 L77.0,85.0 L78.0,85.0 L79.0,85.0 L80.0,85.0 L81.0,85.0 L82.0,85.0 L83.0,85.0 L84.0,85.0 L85.0,85.0 L86.0,85.0 L87.0,85.0 L88.0,85.0 L89.0,85.0 L90.0,85.0 L91.0,85.0 L92.0,85.0 L93.0,85.0 L94.0,85.0 L95.0,85.0 L96.0,85.0 L97.0,85.0 L98.0,85.0 L99.0,85.0 L100.0,85.0 L101.0,85.0 L102.0,85.0 L103.0,85.0 L104.0,85.0 L105.0,85.0 L106.0,85.0 L107.0,85.0 L108.0,85.0 L109.0,85.0 L110.0,85.0 L111.0,85.0 L112.0,85.0 L113.0,85.0 L114.0,85.0 L115.0,85.0 L116.0,85.0 L117.0,85.0 L118.0,85.0 L119.0,85.0 L120.0,85.0 L121.0,85.0 L122.0,85.0 L123.0,85.0 L124.0,85.0 L125.0,85.0 L126.0,85.0 L127.0,85.0 L128.0,85.0 L129.0,85.0 L130.0,85.0 L131.0,85.0 L132.0,85.0 L133.0,85.0 L134.0,85.0 L135.0,85.0 L136.0,85.0 L137.0,85.0 L138.0,85.0 L139.0,85.0 L140.0,85.0 L141.0,85.0 L142.0,85.0 L143.0,85.0 L144.0,85.0 L145.0,85.0 L146.0,85.0 L147.0,85.0 L148.0,85.0 L149.0,85.0 L150.0,85.0 L151.0,85.0 L152.0,85.1 L153.0,85.1 L154.0,85.2 L155.0,85.3 L156.0,85.4 L157.0,85.5 L158.0,85.5 L159.0,85.6 L160.0,85.6 L161.0,85.7 L162.0,85.8 L163.0,85.8 L164.0,85.9 L165.0,85.9 L166.0,86.0 L167.0,86.0 L168.0,86.1 L169.0,86.1 L170.0,86.2 L171.0,86.2 L172.0,86.3 L173.0,86.3 L174.0,86.4 L175.0,86.4 L176.0,86.5 L177.0,86.6 L178.0,86.7 L179.0,86.7 L180.0,86.8 L181.0,86.9 L182.0,87.0 L183.0,87.1 L184.0,87.2 L185.0,87.4 L186.0,87.6 L187.0,87.7 L188.0,87.9 L189.0,88.1 L190.0,88.4 L191.0,88.6 L192.0,88.8 L193.0,89.0 L194.0,89.3 L195.0,89.5 L196.0,89.7 L197.0,90.0 L198.0,90.2 L199.0,90.5 L200.0,90.7 L201.0,91.0 L202.0,91.2 L203.0,91.5 L204.0,91.8 L205.0,92.1 L206.0,92.4 L207.0,92.8 L208.0,93.1 L209.0,93.5 L210.0,93.8 L211.0,94.2 L212.0,94.7 L213.0,95.1 L214.0,95.6 L215.0,96.0 L216.0,96.5 L217.0,97.0 L218.0,97.5 L219.0,98.0 L220.0,98.5 L221.0,99.0 L222.0,99.5 L223.0,100.0 L224.0,100.6 L225.0,101.1 L226.0,101.6 L227.0,102.2 L228.0,102.8 L229.0,103.3 L230.0,103.9 L231.0,104.6 L232.0,105.2 L233.0,105.8 L234.0,106.5 L235.0,107.2 L236.0,107.9 L237.0,108.6 L238.0,109.4 L239.0,110.1 L240.0,110.9 L241.0,111.7 L242.0,112.5 L243.0,113.4 L244.0,114.2 L245.0,115.1 L246.0,116.0 L247.0,116.9 L248.0,117.8 L249.0,118.8 L250.0,119.7 L250.3,120.0 L251.0,120.5 L252.0,121.3 L253.0,122.1 L254.0,122.9 L255.0,123.7 L256.0,124.5 L257.0,125.4 L258.0,126.2" fill="none" stroke="#0000ff" stroke-width="2"/>
<path d="M199.0,90.5 L200.0,90.7 L201.0,91.0 L202.0,91.2 L203.0,91.5 L204.0,91.8 L205.0,92.1 L206.0,92.4 L207.0,92.8 L208.0,93.1 L209.0,93.5 L210.0,93.8 L211.0,94.2 L212.0,94.7 L213.0,95.1 L214.0,95.6 L215.0,96.0 L216.0,96.5 L217.0,97.0 L218.0,97.5 L219.0,98.0 L220.0,98.5 L221.0,99.0 L222.0,99.5 L223.0,100.0 L224.0,100.6 L225.0,101.1 L226.0,101.6 L227.0,102.2 L228.0,102.8 L229.0,103.3 L230.0,103.9 L231.0,104.6 L232.0,105.2 L233.0,105.8 L234.0,106.5 L235.0,107.2 L236.0,107.9 L237.0,108.6 L238.0,109.4 L239.0,110.1 L240.0,110.9 L241.0,111.7 L242.0,112.5 L243.0,113.4 L244.0,114.2 L245.0,115.1 L246.0,116.0 L247.0,116.9 L248.0,117.8 L249.0,118.8 L250.0,119.7 L250.3,120.0 L251.0,120.5 L252.0,121.3 L253.0,122.1 L254.0,122.9 L255.0,123.7 L256.0,124.5 L257.0,125.4 L258.0,126.2" fill="none" stroke="#0000ff" stroke-width="2.25"/>
<path d="M230.0,103.9 L231.0,104.6 L232.0,105.2 L233.0,105.8 L234.0,106.5 L235.0,107.2 L236.0,107.9 L237.0,108.6 L238.0,109.4 L239.0,110.1 L240.0,110.9 L241.0,111.7 L242.0,112.5 L243.0,113.4 L244.0,114.2 L245.0,115.1 L246.0,116.0 L247.0,116.9 L248.0,117.8 L249.0,118.8 L250.0,119.7 L250.3,120.0 L251.0,120.5 L252.0,121.3 L253.0,122.1 L254.0,122.9 L255.0,123.7 L256.0,124.5 L257.0,125.4 L258.0,126.2" fill="none" stroke="#0000ff" stroke-width="2.5"/>
<path d="M258.0,126.2 L259.0,127.1 L260.0,128.0 L261.0,128.9 L262.0,129.8 L263.0,130.7 L264.0,131.7 L265.0,132.6 L266.0,133.6 L267.0,134.5 L268.0,135.4 L269.0,136.4 L270.0,137.3 L271.0,138.3 L272.0,139.2 L273.0,140.1 L274.0,141.1 L275.0,142.0 L276.0,143.0 L277.0,143.9 L278.0,144.9 L279.0,145.8 L280.0,146.8 L281.0,147.8 L282.0,148.8 L283.0,149.8 L284.0,150.8 L285.0,151.8 L286.0,152.9 L287.0,154.0 L288.0,155.1 L289.0,156.3 L290.0,157.4 L291.0,158.6 L292.0,159.8 L293.0,160.9 L294.0,162.0 L295.0,163.2 L296.0,164.3 L297.0,165.4 L298.0,166.6 L299.0,167.7 L300.0,168.8 L301.0,170.0 L302.0,171.1 L303.0,172.2 L304.0,173.3 L305.0,174.5 L306.0,175.6 L307.0,176.7 L308.0,177.9 L309.0,179.0 L310.0,180.2 L311.0,181.3 L312.0,182.5 L313.0,183.7 L314.0,184.9 L315.0,186.0 L316.0,187.2 L317.0,188.4 L318.0,189.6 L319.0,190.8 L320.0,192.1 L321.0,193.3 L322.0,194.5 L323.0,195.7 L324.0,196.8 L325.0,198.0 L326.0,199.2 L327.0,200.3 L328.0,201.5 L329.0,202.6 L330.0,203.8 L331.0,204.9 L332.0,206.1 L333.0,207.2 L334.0,208.4 L335.0,209.5 L336.0,210.6 L337.0,211.7 L338.0,212.8 L339.0,213.9 L340.0,215.0 L341.0,216.1 L342.0,217.2 L343.0,218.3 L344.0,219.3 L345.0,220.4 L346.0,221.4 L347.0,222.5 L348.0,223.5 L349.0,224.5 L350.0,225.5 L351.0,226.5 L352.0,227.5 L353.0,228.5 L354.0,229.5 L355.0,230.5 L356.0,231.5 L357.0,232.5 L358.0,233.4 L359.0,234.4 L360.0,235.3 L361.0,236.2 L362.0,237.2 L363.0,238.1 L364.0,239.0 L365.0,239.9 L366.0,240.8 L367.0,241.7 L368.0,242.6 L369.0,243.5 L370.0,244.4 L371.0,245.2 L372.0,246.1 L373.0,247.0 L374.0,247.8 L375.0,248.7 L376.0,249.5 L377.0,250.3 L378.0,251.2 L379.0,252.0 L380.0,252.8 L381.0,253.5 L382.0,254.3 L383.0,255.1 L384.0,255.8 L385.0,256.5 L386.0,257.3 L387.0,258.0 L388.0,258.7 L389.0,259.4 L390.0,260.1 L391.0,260.7 L392.0,261.4 L393.0,262.1 L394.0,262.7 L395.0,263.4 L396.0,264.0 L397.0,264.6 L398.0,265.2 L399.0,265.8 L400.0,266.4 L401.0,267.0 L402.0,267.6 L403.0,268.2 L404.0,268.7 L404.5,269.0" fill="none" stroke="#0000ff" stroke-width="2.2"/>
<path d="M40.0,23.4 L41.0,23.6 L42.0,23.8 L43.0,24.1 L44.0,24.3 L45.0,24.5 L46.0,24.8 L47.0,25.0 L48.0,25.2 L49.0,25.5 L50.0,25.7 L51.0,26.0 L52.0,26.2 L53.0,26.4 L54.0,26.7 L55.0,26.9 L56.0,27.2 L57.0,27.4 L58.0,27.7 L59.0,28.0 L60.0,28.2 L61.0,28.5 L62.0,28.7 L63.0,29.0 L64.0,29.3 L65.0,29.5 L66.0,29.8 L67.0,30.1 L68.0,30.3 L69.0,30.6 L70.0,30.9 L71.0,31.2 L72.0,31.4 L73.0,31.7 L74.0,32.0 L75.0,32.3 L76.0,32.5 L77.0,32.8 L78.0,33.1 L79.0,33.4 L80.0,33.7 L81.0,34.0 L82.0,34.3 L83.0,34.6 L84.0,34.9 L85.0,35.2 L86.0,35.5 L87.0,35.8 L88.0,36.1 L89.0,36.4 L90.0,36.7 L91.0,37.0 L92.0,37.3 L93.0,37.7 L94.0,38.0 L95.0,38.3 L96.0,38.6 L97.0,38.9 L98.0,39.3 L99.0,39.6 L100.0,39.9 L101.0,40.2 L102.0,40.5 L103.0,40.9 L104.0,41.2 L105.0,41.5 L106.0,41.8 L107.0,42.2 L108.0,42.5 L109.0,42.8 L110.0,43.1 L111.0,43.5 L112.0,43.8 L113.0,44.1 L114.0,44.4 L115.0,44.8 L116.0,45.1 L117.0,45.4 L118.0,45.8 L119.0,46.1 L120.0,46.4 L121.0,46.8 L122.0,47.1 L123.0,47.5 L124.0,47.8 L125.0,48.1 L126.0,48.5 L127.0,48.8 L128.0,49.2 L129.0,49.5 L130.0,49.9 L131.0,50.3 L132.0,50.6 L133.0,51.0 L134.0,51.3 L135.0,51.7 L136.0,52.1 L137.0,52.4 L138.0,52.8 L139.0,53.2 L140.0,53.5 L141.0,53.9 L142.0,54.3 L143.0,54.6 L144.0,55.0 L145.0,55.4 L146.0,55.8 L147.0,56.2 L148.0,56.6 L149.0,57.0 L150.0,57.3 L151.0,57.7 L152.0,58.1 L153.0,58.6 L154.0,59.0 L155.0,59.4 L156.0,59.8 L157.0,60.2 L158.0,60.7 L159.0,61.1 L160.0,61.6 L161.0,62.0 L162.0,62.5 L163.0,63.0 L164.0,63.5 L165.0,63.9 L166.0,64.4 L167.0,64.8 L168.0,65.2 L169.0,65.7 L170.0,66.1 L171.0,66.5 L172.0,66.9 L173.0,67.3 L174.0,67.8 L175.0,68.2 L176.0,68.6 L177.0,69.0 L178.0,69.5 L179.0,69.9 L180.0,70.4 L181.0,70.8 L182.0,71.3 L183.0,71.8 L184.0,72.3 L185.0,72.8 L186.0,73.4 L187.0,73.9 L188.0,74.5 L189.0,75.0 L190.0,75.6 L191.0,76.2 L192.0,76.8 L193.0,77.4 L194.0,77.9 L195.0,78.5 L196.0,79.1 L197.0,79.7 L198.0,80.2 L199.0,80.8 L200.0,81.3 L201.0,81.9 L202.0,82.4 L203.0,83.0 L204.0,83.5 L205.0,84.1 L206.0,84.7 L207.0,85.2 L208.0,85.8 L209.0,86.4 L210.0,86.9 L211.0,87.5 L212.0,88.1 L213.0,88.8 L214.0,89.4 L215.0,90.0 L216.0,90.7 L217.0,91.4 L218.0,92.0 L219.0,92.7 L220.0,93.4 L221.0,94.1 L222.0,94.9 L223.0,95.6 L224.0,96.3 L225.0,97.1 L226.0,97.8 L227.0,98.6 L228.0,99.3 L229.0,100.1 L230.0,100.9 L231.0,101.6 L232.0,102.4 L233.0,103.2 L234.0,104.0 L235.0,104.8 L236.0,105.6 L237.0,106.4 L238.0,107.2 L239.0,108.1 L240.0,108.9 L241.0,109.8 L242.0,110.6 L243.0,111.5 L244.0,112.4 L245.0,113.2 L246.0,114.1 L247.0,115.0 L248.0,115.9 L249.0,116.8 L250.0,117.7 L251.0,118.6 L252.0,119.5" fill="none" stroke="#ec2e00" stroke-width="2"/>
<path d="M55.0,26.9 L56.0,27.2 L57.0,27.4 L58.0,27.7 L59.0,28.0 L60.0,28.2 L61.0,28.5 L62.0,28.7 L63.0,29.0 L64.0,29.3 L65.0,29.5 L66.0,29.8 L67.0,30.1 L68.0,30.3 L69.0,30.6 L70.0,30.9 L71.0,31.2 L72.0,31.4 L73.0,31.7 L74.0,32.0 L75.0,32.3 L76.0,32.5 L77.0,32.8 L78.0,33.1 L79.0,33.4 L80.0,33.7 L81.0,34.0 L82.0,34.3 L83.0,34.6 L84.0,34.9 L85.0,35.2 L86.0,35.5 L87.0,35.8 L88.0,36.1 L89.0,36.4 L90.0,36.7 L91.0,37.0 L92.0,37.3 L93.0,37.7 L94.0,38.0 L95.0,38.3 L96.0,38.6 L97.0,38.9 L98.0,39.3 L99.0,39.6 L100.0,39.9 L101.0,40.2 L102.0,40.5 L103.0,40.9 L104.0,41.2 L105.0,41.5 L106.0,41.8 L107.0,42.2 L108.0,42.5 L109.0,42.8 L110.0,43.1 L111.0,43.5 L112.0,43.8 L113.0,44.1 L114.0,44.4 L115.0,44.8 L116.0,45.1 L117.0,45.4 L118.0,45.8 L119.0,46.1 L120.0,46.4 L121.0,46.8 L122.0,47.1 L123.0,47.5 L124.0,47.8 L125.0,48.1 L126.0,48.5 L127.0,48.8 L128.0,49.2 L129.0,49.5 L130.0,49.9 L131.0,50.3 L132.0,50.6 L133.0,51.0 L134.0,51.3 L135.0,51.7 L136.0,52.1 L137.0,52.4 L138.0,52.8 L139.0,53.2 L140.0,53.5 L141.0,53.9 L142.0,54.3 L143.0,54.6 L144.0,55.0 L145.0,55.4 L146.0,55.8 L147.0,56.2 L148.0,56.6 L149.0,57.0 L150.0,57.3 L151.0,57.7 L152.0,58.1 L153.0,58.6 L154.0,59.0 L155.0,59.4 L156.0,59.8 L157.0,60.2 L158.0,60.7 L159.0,61.1 L160.0,61.6 L161.0,62.0 L162.0,62.5 L163.0,63.0 L164.0,63.5 L165.0,63.9 L166.0,64.4 L167.0,64.8 L168.0,65.2 L169.0,65.7 L170.0,66.1 L171.0,66.5 L172.0,66.9 L173.0,67.3 L174.0,67.8 L175.0,68.2 L176.0,68.6 L177.0,69.0 L178.0,69.5 L179.0,69.9 L180.0,70.4 L181.0,70.8 L182.0,71.3 L183.0,71.8 L184.0,72.3 L185.0,72.8 L186.0,73.4 L187.0,73.9 L188.0,74.5 L189.0,75.0 L190.0,75.6 L191.0,76.2 L192.0,76.8 L193.0,77.4 L194.0,77.9 L195.0,78.5 L196.0,79.1 L197.0,79.7 L198.0,80.2 L199.0,80.8 L200.0,81.3 L201.0,81.9 L202.0,82.4 L203.0,83.0 L204.0,83.5 L205.0,84.1 L206.0,84.7 L207.0,85.2 L208.0,85.8 L209.0,86.4 L210.0,86.9 L211.0,87.5 L212.0,88.1 L213.0,88.8 L214.0,89.4 L215.0,90.0 L216.0,90.7 L217.0,91.4 L218.0,92.0 L219.0,92.7 L220.0,93.4 L221.0,94.1 L222.0,94.9 L223.0,95.6 L224.0,96.3 L225.0,97.1 L226.0,97.8 L227.0,98.6 L228.0,99.3 L229.0,100.1 L230.0,100.9 L231.0,101.6 L232.0,102.4 L233.0,103.2 L234.0,104.0 L235.0,104.8 L236.0,105.6 L237.0,106.4 L238.0,107.2 L239.0,108.1 L240.0,108.9 L241.0,109.8 L242.0,110.6 L243.0,111.5 L244.0,112.4 L245.0,113.2 L246.0,114.1 L247.0,115.0 L248.0,115.9 L249.0,116.8 L250.0,117.7 L251.0,118.6 L252.0,119.5" fill="none" stroke="#ec2e00" stroke-width="2.25"/>
<path d="M212.0,88.1 L213.0,88.8 L214.0,89.4 L215.0,90.0 L216.0,90.7 L217.0,91.4 L218.0,92.0 L219.0,92.7 L220.0,93.4 L221.0,94.1 L222.0,94.9 L223.0,95.6 L224.0,96.3 L225.0,97.1 L226.0,97.8 L227.0,98.6 L228.0,99.3 L229.0,100.1 L230.0,100.9 L231.0,101.6 L232.0,102.4 L233.0,103.2 L234.0,104.0 L235.0,104.8 L236.0,105.6 L237.0,106.4 L238.0,107.2 L239.0,108.1 L240.0,108.9 L241.0,109.8 L242.0,110.6 L243.0,111.5 L244.0,112.4 L245.0,113.2 L246.0,114.1 L247.0,115.0 L248.0,115.9 L249.0,116.8 L250.0,117.7 L251.0,118.6 L252.0,119.5" fill="none" stroke="#ec2e00" stroke-width="2.5"/>
<path d="M252.0,119.5 L253.0,120.5 L254.0,121.4 L255.0,122.4 L256.0,123.3 L257.0,124.3 L258.0,125.3 L259.0,126.3 L260.0,127.3 L261.0,128.3 L262.0,129.3 L263.0,130.3 L264.0,131.3 L265.0,132.3 L266.0,133.3 L267.0,134.3 L268.0,135.3 L269.0,136.2 L270.0,137.2 L271.0,138.2 L272.0,139.2 L273.0,140.1 L274.0,141.1 L275.0,142.0 L276.0,143.0 L277.0,143.9 L278.0,144.9 L279.0,145.8 L280.0,146.8 L281.0,147.8 L282.0,148.8 L283.0,149.8 L284.0,150.8 L285.0,151.8 L286.0,152.9 L287.0,154.0 L288.0,155.1 L289.0,156.3 L290.0,157.4 L291.0,158.6 L292.0,159.8 L293.0,160.9 L294.0,162.0 L295.0,163.2 L296.0,164.3 L297.0,165.4 L298.0,166.6 L299.0,167.7 L300.0,168.8 L301.0,170.0 L302.0,171.1 L303.0,172.2 L304.0,173.3 L305.0,174.5 L306.0,175.6 L307.0,176.7 L308.0,177.9 L309.0,179.0 L310.0,180.2 L311.0,181.3 L312.0,182.5 L313.0,183.7 L314.0,184.9 L315.0,186.0 L316.0,187.2 L317.0,188.4 L318.0,189.6 L319.0,190.8 L320.0,192.1 L321.0,193.3 L322.0,194.5 L323.0,195.7 L324.0,196.8 L325.0,198.0 L326.0,199.2 L327.0,200.3 L328.0,201.5 L329.0,202.6 L330.0,203.8 L331.0,204.9 L332.0,206.1 L333.0,207.2 L334.0,208.4 L335.0,209.5 L336.0,210.6 L337.0,211.7 L338.0,212.8 L339.0,213.9 L340.0,215.0 L341.0,216.1 L342.0,217.2 L343.0,218.3 L344.0,219.3 L345.0,220.4 L346.0,221.4 L347.0,222.5 L348.0,223.5 L349.0,224.5 L350.0,225.5 L351.0,226.5 L352.0,227.5 L353.0,228.5 L354.0,229.5 L355.0,230.5 L356.0,231.5 L357.0,232.5 L358.0,233.4 L359.0,234.4 L360.0,235.3 L361.0,236.2 L362.0,237.2 L363.0,238.1 L364.0,239.0 L365.0,239.9 L366.0,240.8 L367.0,241.7 L368.0,242.6 L369.0,243.5 L370.0,244.4 L371.0,245.2 L372.0,246.1 L373.0,247.0 L374.0,247.8 L375.0,248.7 L376.0,249.5 L377.0,250.3 L378.0,251.2 L379.0,252.0 L380.0,252.8 L381.0,253.5 L382.0,254.3 L383.0,255.1 L384.0,255.8 L385.0,256.5 L386.0,257.3 L387.0,258.0 L388.0,258.7 L389.0,259.4 L390.0,260.1 L391.0,260.7 L392.0,261.4 L393.0,262.1 L394.0,262.7 L395.0,263.4 L396.0,264.0 L397.0,264.6 L398.0,265.2 L399.0,265.8 L400.0,266.4 L401.0,267.0 L402.0,267.6 L403.0,268.2 L404.0,268.7 L404.5,269.0" fill="none" stroke="#ec2e00" stroke-width="2.5" stroke-dasharray="1.3 1.0"/>
<path d="M40.0,67.2 L41.0,67.5 L42.0,67.7 L43.0,68.0 L44.0,68.2 L45.0,68.5 L46.0,68.8 L47.0,69.0 L48.0,69.3 L49.0,69.5 L50.0,69.8 L51.0,70.0 L52.0,70.3 L53.0,70.6 L54.0,70.8 L55.0,71.1 L56.0,71.3 L57.0,71.6 L58.0,71.8 L59.0,72.1 L60.0,72.3 L61.0,72.5 L62.0,72.8 L63.0,73.0 L64.0,73.3 L65.0,73.5 L66.0,73.8 L67.0,74.0 L68.0,74.2 L69.0,74.5 L70.0,74.7 L71.0,75.0 L72.0,75.2 L73.0,75.4 L74.0,75.6 L75.0,75.9 L76.0,76.1 L77.0,76.4 L78.0,76.6 L79.0,76.8 L80.0,77.0 L81.0,77.3 L82.0,77.5 L83.0,77.7 L84.0,77.9 L85.0,78.1 L86.0,78.3 L87.0,78.5 L88.0,78.7 L89.0,78.8 L90.0,79.0 L91.0,79.2 L92.0,79.3 L93.0,79.5 L94.0,79.7 L95.0,79.8 L96.0,80.0 L97.0,80.2 L98.0,80.3 L99.0,80.5 L100.0,80.6 L101.0,80.8 L102.0,81.0 L103.0,81.1 L104.0,81.3 L105.0,81.5 L106.0,81.6 L107.0,81.8 L108.0,81.9 L109.0,82.0 L110.0,82.2 L111.0,82.3 L112.0,82.4 L113.0,82.5 L114.0,82.6 L115.0,82.7 L116.0,82.8 L117.0,82.9 L118.0,82.9 L119.0,83.0 L120.0,83.1 L121.0,83.2 L122.0,83.2 L123.0,83.3 L124.0,83.4 L125.0,83.4 L126.0,83.5 L127.0,83.6 L128.0,83.6 L129.0,83.7 L130.0,83.8 L131.0,83.8 L132.0,83.9 L133.0,83.9 L134.0,84.0 L135.0,84.0 L136.0,84.1 L137.0,84.1 L138.0,84.2 L139.0,84.2 L140.0,84.2 L141.0,84.3 L142.0,84.3 L143.0,84.4 L144.0,84.4 L145.0,84.4 L146.0,84.5 L147.0,84.5 L148.0,84.5 L149.0,84.6 L150.0,84.6 L151.0,84.6 L152.0,84.7 L153.0,84.7 L154.0,84.7 L155.0,84.8 L156.0,84.8 L157.0,84.8 L158.0,84.8 L159.0,84.9 L160.0,84.9 L161.0,84.9 L162.0,85.0 L163.0,85.0 L164.0,85.0 L165.0,85.0 L166.0,85.1 L167.0,85.1 L168.0,85.1 L169.0,85.1 L170.0,85.1 L171.0,85.2 L172.0,85.2 L173.0,85.2 L174.0,85.2 L175.0,85.3 L176.0,85.3 L177.0,85.3 L178.0,85.4 L179.0,85.4 L180.0,85.4 L181.0,85.5 L182.0,85.5 L183.0,85.5 L184.0,85.6 L185.0,85.7 L186.0,85.7 L187.0,85.8 L188.0,85.9 L189.0,85.9 L190.0,86.0 L191.0,86.1 L192.0,86.2 L193.0,86.3 L194.0,86.4 L195.0,86.5 L196.0,86.6 L197.0,86.7 L198.0,86.9 L199.0,87.0 L200.0,87.1 L201.0,87.3 L202.0,87.4 L203.0,87.5 L204.0,87.7 L205.0,87.8 L206.0,88.0 L207.0,88.1 L208.0,88.3 L209.0,88.5 L210.0,88.7 L211.0,88.8 L212.0,89.1 L213.0,89.3 L214.0,89.5 L215.0,89.8 L216.0,90.0 L217.0,90.3 L218.0,90.6 L219.0,90.9 L220.0,91.2 L221.0,91.5 L222.0,91.9 L223.0,92.2 L224.0,92.6 L225.0,92.9 L226.0,93.3 L227.0,93.7 L228.0,94.1 L229.0,94.5 L230.0,94.9 L231.0,95.3 L232.0,95.7 L233.0,96.2 L234.0,96.6 L235.0,97.1 L236.0,97.6 L237.0,98.1 L238.0,98.7 L239.0,99.3 L240.0,100.0 L241.0,100.7 L242.0,101.3 L243.0,102.0 L244.0,102.7 L245.0,103.4 L246.0,104.1 L247.0,104.7 L248.0,105.4 L249.0,106.1 L250.0,106.8 L251.0,107.5 L252.0,108.2 L253.0,108.9 L254.0,109.6 L255.0,110.3 L256.0,111.1 L257.0,111.8 L258.0,112.5 L259.0,113.2 L260.0,113.9 L261.0,114.6 L262.0,115.3 L263.0,116.0 L264.0,116.7 L265.0,117.4 L266.0,118.1 L267.0,118.8 L268.0,119.6 L269.0,120.4 L270.0,121.2 L271.0,122.0 L272.0,122.9 L273.0,123.8 L274.0,124.6 L275.0,125.5 L276.0,126.4 L277.0,127.4 L278.0,128.3 L279.0,129.2 L280.0,130.2 L281.0,131.1 L282.0,132.1 L283.0,133.1 L284.0,134.0 L285.0,135.0 L286.0,136.0 L287.0,137.0 L288.0,138.0 L289.0,139.0 L290.0,140.1 L291.0,141.1 L292.0,142.2 L293.0,143.2 L294.0,144.3 L295.0,145.4 L296.0,146.5 L297.0,147.6 L298.0,148.7 L299.0,149.8 L300.0,150.9 L301.0,152.0 L302.0,153.1 L303.0,154.2 L304.0,155.3 L305.0,156.4 L306.0,157.4 L307.0,158.5 L308.0,159.6 L309.0,160.6 L310.0,161.7 L311.0,162.7 L312.0,163.8 L313.0,164.8 L314.0,165.9 L315.0,166.9 L316.0,168.0 L317.0,169.0 L318.0,170.1 L319.0,171.1 L320.0,172.2 L321.0,173.3 L322.0,174.4 L323.0,175.4 L324.0,176.5 L325.0,177.6 L326.0,178.7 L327.0,179.8 L328.0,180.9 L329.0,182.1 L330.0,183.2 L331.0,184.4 L332.0,185.5 L333.0,186.7 L334.0,187.9 L335.0,189.1 L336.0,190.3 L337.0,191.5 L338.0,192.7 L339.0,193.9 L340.0,195.0 L341.0,196.2 L342.0,197.4 L343.0,198.5 L344.0,199.7 L345.0,200.8 L346.0,201.9 L347.0,203.0 L348.0,204.1 L349.0,205.2 L350.0,206.3 L351.0,207.4 L352.0,208.5 L353.0,209.6 L354.0,210.6 L355.0,211.7 L356.0,212.8 L357.0,213.9 L358.0,214.9 L359.0,216.0 L360.0,217.0 L361.0,218.1 L362.0,219.2 L363.0,220.2 L364.0,221.2 L365.0,222.3 L366.0,223.4 L367.0,224.4 L368.0,225.5 L369.0,226.5 L370.0,227.6 L371.0,228.6 L372.0,229.7 L373.0,230.7 L374.0,231.7 L375.0,232.8 L376.0,233.8 L377.0,234.8 L378.0,235.8 L379.0,236.8 L380.0,237.7 L381.0,238.7 L382.0,239.6 L383.0,240.6 L384.0,241.5 L385.0,242.4 L386.0,243.3 L387.0,244.2 L388.0,245.1 L389.0,245.9 L390.0,246.8 L391.0,247.7 L392.0,248.5 L393.0,249.4 L394.0,250.2 L395.0,251.1 L396.0,251.9 L397.0,252.7 L398.0,253.5 L399.0,254.3 L400.0,255.1 L401.0,255.9 L402.0,256.6 L403.0,257.4 L404.0,258.1 L404.5,258.5" fill="none" stroke="#008000" stroke-width="2"/>
<path d="M40.0,67.2 L41.0,67.5 L42.0,67.7 L43.0,68.0 L44.0,68.2 L45.0,68.5 L46.0,68.8 L47.0,69.0 L48.0,69.3 L49.0,69.5 L50.0,69.8 L51.0,70.0 L52.0,70.3 L53.0,70.6 L54.0,70.8 L55.0,71.1" fill="none" stroke="#008000" stroke-width="2.25"/>
<path d="M215.0,89.8 L216.0,90.0 L217.0,90.3 L218.0,90.6 L219.0,90.9 L220.0,91.2 L221.0,91.5 L222.0,91.9 L223.0,92.2 L224.0,92.6 L225.0,92.9 L226.0,93.3 L227.0,93.7 L228.0,94.1 L229.0,94.5 L230.0,94.9 L231.0,95.3 L232.0,95.7 L233.0,96.2 L234.0,96.6 L235.0,97.1 L236.0,97.6 L237.0,98.1 L238.0,98.7 L239.0,99.3 L240.0,100.0 L241.0,100.7 L242.0,101.3 L243.0,102.0 L244.0,102.7 L245.0,103.4 L246.0,104.1 L247.0,104.7 L248.0,105.4 L249.0,106.1 L250.0,106.8 L251.0,107.5 L252.0,108.2 L253.0,108.9 L254.0,109.6 L255.0,110.3 L256.0,111.1 L257.0,111.8 L258.0,112.5 L259.0,113.2 L260.0,113.9 L261.0,114.6 L262.0,115.3 L263.0,116.0 L264.0,116.7 L265.0,117.4 L266.0,118.1 L267.0,118.8 L268.0,119.6 L269.0,120.4 L270.0,121.2 L271.0,122.0 L272.0,122.9 L273.0,123.8 L274.0,124.6 L275.0,125.5 L276.0,126.4 L277.0,127.4 L278.0,128.3 L279.0,129.2 L280.0,130.2 L281.0,131.1 L282.0,132.1 L283.0,133.1 L284.0,134.0 L285.0,135.0 L286.0,136.0 L287.0,137.0 L288.0,138.0 L289.0,139.0 L290.0,140.1 L291.0,141.1 L292.0,142.2 L293.0,143.2 L294.0,144.3 L295.0,145.4 L296.0,146.5 L297.0,147.6 L298.0,148.7 L299.0,149.8 L300.0,150.9 L301.0,152.0 L302.0,153.1 L303.0,154.2 L304.0,155.3 L305.0,156.4 L306.0,157.4 L307.0,158.5 L308.0,159.6 L309.0,160.6 L310.0,161.7 L311.0,162.7 L312.0,163.8 L313.0,164.8 L314.0,165.9 L315.0,166.9 L316.0,168.0 L317.0,169.0 L318.0,170.1 L319.0,171.1 L320.0,172.2 L321.0,173.3 L322.0,174.4 L323.0,175.4 L324.0,176.5 L325.0,177.6 L326.0,178.7 L327.0,179.8 L328.0,180.9 L329.0,182.1 L330.0,183.2 L331.0,184.4 L332.0,185.5 L333.0,186.7 L334.0,187.9 L335.0,189.1 L336.0,190.3 L337.0,191.5 L338.0,192.7 L339.0,193.9 L340.0,195.0 L341.0,196.2 L342.0,197.4 L343.0,198.5 L344.0,199.7 L345.0,200.8 L346.0,201.9 L347.0,203.0 L348.0,204.1 L349.0,205.2 L350.0,206.3 L351.0,207.4 L352.0,208.5 L353.0,209.6 L354.0,210.6 L355.0,211.7 L356.0,212.8 L357.0,213.9 L358.0,214.9 L359.0,216.0 L360.0,217.0 L361.0,218.1 L362.0,219.2 L363.0,220.2 L364.0,221.2 L365.0,222.3 L366.0,223.4 L367.0,224.4 L368.0,225.5 L369.0,226.5 L370.0,227.6 L371.0,228.6 L372.0,229.7 L373.0,230.7 L374.0,231.7 L375.0,232.8 L376.0,233.8 L377.0,234.8 L378.0,235.8 L379.0,236.8 L380.0,237.7 L381.0,238.7 L382.0,239.6 L383.0,240.6 L384.0,241.5 L385.0,242.4 L386.0,243.3 L387.0,244.2 L388.0,245.1 L389.0,245.9 L390.0,246.8 L391.0,247.7 L392.0,248.5 L393.0,249.4 L394.0,250.2 L395.0,251.1 L396.0,251.9 L397.0,252.7 L398.0,253.5 L399.0,254.3 L400.0,255.1 L401.0,255.9 L402.0,256.6 L403.0,257.4 L404.0,258.1 L404.5,258.5" fill="none" stroke="#008000" stroke-width="2.25"/>
<path d="M238.0,98.7 L239.0,99.3 L240.0,100.0 L241.0,100.7 L242.0,101.3 L243.0,102.0 L244.0,102.7 L245.0,103.4 L246.0,104.1 L247.0,104.7 L248.0,105.4 L249.0,106.1 L250.0,106.8 L251.0,107.5 L252.0,108.2 L253.0,108.9 L254.0,109.6 L255.0,110.3 L256.0,111.1 L257.0,111.8 L258.0,112.5 L259.0,113.2 L260.0,113.9 L261.0,114.6 L262.0,115.3 L263.0,116.0 L264.0,116.7 L265.0,117.4 L266.0,118.1 L267.0,118.8 L268.0,119.6 L269.0,120.4 L270.0,121.2 L271.0,122.0 L272.0,122.9 L273.0,123.8 L274.0,124.6 L275.0,125.5 L276.0,126.4 L277.0,127.4 L278.0,128.3 L279.0,129.2 L280.0,130.2 L281.0,131.1 L282.0,132.1 L283.0,133.1 L284.0,134.0 L285.0,135.0 L286.0,136.0 L287.0,137.0 L288.0,138.0 L289.0,139.0 L290.0,140.1 L291.0,141.1 L292.0,142.2 L293.0,143.2 L294.0,144.3 L295.0,145.4 L296.0,146.5 L297.0,147.6 L298.0,148.7 L299.0,149.8 L300.0,150.9 L301.0,152.0 L302.0,153.1 L303.0,154.2 L304.0,155.3 L305.0,156.4 L306.0,157.4 L307.0,158.5 L308.0,159.6 L309.0,160.6 L310.0,161.7 L311.0,162.7 L312.0,163.8 L313.0,164.8 L314.0,165.9 L315.0,166.9 L316.0,168.0 L317.0,169.0 L318.0,170.1 L319.0,171.1 L320.0,172.2 L321.0,173.3 L322.0,174.4 L323.0,175.4 L324.0,176.5 L325.0,177.6 L326.0,178.7 L327.0,179.8 L328.0,180.9 L329.0,182.1 L330.0,183.2 L331.0,184.4 L332.0,185.5 L333.0,186.7 L334.0,187.9 L335.0,189.1 L336.0,190.3 L337.0,191.5 L338.0,192.7 L339.0,193.9 L340.0,195.0 L341.0,196.2 L342.0,197.4 L343.0,198.5 L344.0,199.7 L345.0,200.8 L346.0,201.9 L347.0,203.0 L348.0,204.1 L349.0,205.2 L350.0,206.3 L351.0,207.4 L352.0,208.5 L353.0,209.6 L354.0,210.6 L355.0,211.7 L356.0,212.8 L357.0,213.9 L358.0,214.9 L359.0,216.0 L360.0,217.0 L361.0,218.1 L362.0,219.2 L363.0,220.2 L364.0,221.2 L365.0,222.3 L366.0,223.4 L367.0,224.4 L368.0,225.5 L369.0,226.5 L370.0,227.6 L371.0,228.6 L372.0,229.7 L373.0,230.7 L374.0,231.7 L375.0,232.8 L376.0,233.8 L377.0,234.8 L378.0,235.8 L379.0,236.8 L380.0,237.7 L381.0,238.7 L382.0,239.6 L383.0,240.6 L384.0,241.5 L385.0,242.4 L386.0,243.3 L387.0,244.2 L388.0,245.1 L389.0,245.9 L390.0,246.8 L391.0,247.7 L392.0,248.5 L393.0,249.4 L394.0,250.2 L395.0,251.1 L396.0,251.9 L397.0,252.7 L398.0,253.5 L399.0,254.3 L400.0,255.1 L401.0,255.9 L402.0,256.6 L403.0,257.4 L404.0,258.1 L404.5,258.5" fill="none" stroke="#008000" stroke-width="2.5"/>
<path d="M40.0,132.9 L41.0,132.9 L42.0,132.9 L43.0,132.9 L44.0,132.9 L45.0,132.9 L46.0,132.9 L47.0,132.9 L48.0,132.9 L49.0,132.9 L50.0,132.9 L51.0,132.9 L52.0,132.9 L53.0,132.9 L54.0,132.9 L55.0,132.9 L56.0,132.9 L57.0,132.9 L58.0,132.9 L59.0,132.9 L60.0,132.9 L61.0,132.9 L62.0,132.9 L63.0,132.9 L64.0,132.9 L65.0,132.9 L66.0,132.9 L67.0,132.9 L68.0,132.9 L69.0,132.9 L70.0,132.9 L71.0,132.9 L72.0,132.9 L73.0,132.9 L74.0,132.9 L75.0,132.9 L76.0,132.9 L77.0,132.9 L78.0,132.9 L79.0,132.9 L80.0,132.9 L81.0,132.9 L82.0,132.9 L83.0,132.9 L84.0,132.9 L85.0,132.9 L86.0,132.9 L87.0,132.9 L88.0,132.9 L89.0,132.9 L90.0,132.9 L91.0,132.9 L92.0,132.9 L93.0,132.9 L94.0,132.9 L95.0,132.9 L96.0,132.9 L97.0,132.9 L98.0,132.9 L99.0,132.9 L100.0,132.9 L101.0,132.9 L102.0,132.9 L103.0,132.9 L104.0,132.9 L105.0,132.9 L106.0,132.9 L107.0,132.9 L108.0,132.9 L109.0,132.9 L110.0,132.9 L111.0,132.9 L112.0,132.9 L113.0,132.9 L114.0,132.9 L115.0,132.9 L116.0,132.9 L117.0,132.9 L118.0,132.9 L119.0,132.9 L120.0,132.9 L121.0,132.9 L122.0,132.9 L123.0,132.9 L124.0,132.9 L125.0,132.9 L126.0,132.9 L127.0,132.9 L128.0,132.9 L129.0,132.9 L130.0,132.9 L131.0,132.9 L132.0,132.9 L133.0,132.9 L134.0,132.9 L135.0,132.9 L136.0,132.9 L137.0,132.9 L138.0,132.9 L139.0,132.9 L140.0,132.9 L141.0,132.9 L142.0,132.9 L143.0,133.0 L144.0,133.0 L145.0,133.1 L146.0,133.2 L147.0,133.3 L148.0,133.4 L149.0,133.5 L150.0,133.7 L151.0,133.8 L152.0,133.9 L153.0,134.0 L154.0,134.2 L155.0,134.3 L156.0,134.4 L157.0,134.5 L158.0,134.6 L159.0,134.7 L160.0,134.9 L161.0,135.0 L162.0,135.1 L163.0,135.3 L164.0,135.4 L165.0,135.6 L166.0,135.7 L167.0,135.9 L168.0,136.1 L169.0,136.3 L170.0,136.5 L171.0,136.7 L172.0,136.9 L173.0,137.2 L174.0,137.4 L175.0,137.7 L176.0,138.0 L177.0,138.2 L178.0,138.5 L179.0,138.8 L180.0,139.1 L181.0,139.4 L182.0,139.8 L183.0,140.1 L184.0,140.4 L185.0,140.8 L186.0,141.1 L187.0,141.5 L188.0,141.9 L189.0,142.3 L190.0,142.7 L191.0,143.2 L192.0,143.6 L193.0,144.0 L194.0,144.5 L195.0,145.0 L196.0,145.5 L197.0,146.0 L198.0,146.6 L199.0,147.1 L200.0,147.7 L201.0,148.3 L202.0,148.9 L203.0,149.6 L204.0,150.2 L205.0,150.8 L206.0,151.5 L207.0,152.1 L208.0,152.8 L209.0,153.4 L210.0,154.1 L211.0,154.7 L212.0,155.4 L213.0,156.1 L214.0,156.8 L215.0,157.5 L216.0,158.2 L217.0,158.9 L218.0,159.6 L218.5,160.0 L219.0,160.3 L220.0,161.0 L221.0,161.7 L222.0,162.3 L223.0,163.0 L224.0,163.6 L225.0,164.3 L226.0,164.9 L227.0,165.6 L228.0,166.3 L229.0,166.9 L230.0,167.6 L231.0,168.3 L232.0,169.0 L233.0,169.7 L234.0,170.4 L235.0,171.1 L236.0,171.9 L237.0,172.6 L238.0,173.4 L239.0,174.2 L240.0,175.0 L241.0,175.9 L242.0,176.7 L243.0,177.5 L244.0,178.4 L245.0,179.3 L246.0,180.2" fill="none" stroke="#0000ff" stroke-width="2"/>
<path d="M174.0,137.4 L175.0,137.7 L176.0,138.0 L177.0,138.2 L178.0,138.5 L179.0,138.8 L180.0,139.1 L181.0,139.4 L182.0,139.8 L183.0,140.1 L184.0,140.4 L185.0,140.8 L186.0,141.1 L187.0,141.5 L188.0,141.9 L189.0,142.3 L190.0,142.7 L191.0,143.2 L192.0,143.6 L193.0,144.0 L194.0,144.5 L195.0,145.0 L196.0,145.5 L197.0,146.0 L198.0,146.6 L199.0,147.1 L200.0,147.7 L201.0,148.3 L202.0,148.9 L203.0,149.6 L204.0,150.2 L205.0,150.8 L206.0,151.5 L207.0,152.1 L208.0,152.8 L209.0,153.4 L210.0,154.1 L211.0,154.7 L212.0,155.4 L213.0,156.1 L214.0,156.8 L215.0,157.5 L216.0,158.2 L217.0,158.9 L218.0,159.6 L218.5,160.0 L219.0,160.3 L220.0,161.0 L221.0,161.7 L222.0,162.3 L223.0,163.0 L224.0,163.6 L225.0,164.3 L226.0,164.9 L227.0,165.6 L228.0,166.3 L229.0,166.9 L230.0,167.6 L231.0,168.3 L232.0,169.0 L233.0,169.7 L234.0,170.4 L235.0,171.1 L236.0,171.9 L237.0,172.6 L238.0,173.4 L239.0,174.2 L240.0,175.0 L241.0,175.9 L242.0,176.7 L243.0,177.5 L244.0,178.4 L245.0,179.3 L246.0,180.2" fill="none" stroke="#0000ff" stroke-width="2.25"/>
<path d="M201.0,148.3 L202.0,148.9 L203.0,149.6 L204.0,150.2 L205.0,150.8 L206.0,151.5 L207.0,152.1 L208.0,152.8 L209.0,153.4 L210.0,154.1 L211.0,154.7 L212.0,155.4 L213.0,156.1 L214.0,156.8 L215.0,157.5 L216.0,158.2 L217.0,158.9 L218.0,159.6 L218.5,160.0 L219.0,160.3 L220.0,161.0 L221.0,161.7 L222.0,162.3 L223.0,163.0 L224.0,163.6 L225.0,164.3 L226.0,164.9 L227.0,165.6 L228.0,166.3 L229.0,166.9 L230.0,167.6 L231.0,168.3 L232.0,169.0 L233.0,169.7 L234.0,170.4 L235.0,171.1 L236.0,171.9 L237.0,172.6 L238.0,173.4 L239.0,174.2 L240.0,175.0 L241.0,175.9 L242.0,176.7 L243.0,177.5 L244.0,178.4 L245.0,179.3 L246.0,180.2" fill="none" stroke="#0000ff" stroke-width="2.5"/>
<path d="M246.0,180.2 L247.0,181.1 L248.0,181.9 L249.0,182.8 L250.0,183.7 L251.0,184.6 L252.0,185.6 L253.0,186.5 L254.0,187.4 L255.0,188.3 L256.0,189.2 L257.0,190.1 L258.0,191.1 L259.0,192.0 L260.0,192.9 L261.0,193.8 L262.0,194.8 L263.0,195.8 L264.0,196.7 L265.0,197.7 L266.0,198.6 L267.0,199.5 L268.0,200.4 L269.0,201.3 L270.0,202.2 L271.0,203.1 L272.0,203.9 L273.0,204.8 L274.0,205.6 L275.0,206.5 L276.0,207.3 L277.0,208.1 L278.0,208.9 L279.0,209.7 L280.0,210.6 L281.0,211.4 L282.0,212.2 L283.0,213.0 L284.0,213.8 L285.0,214.6 L286.0,215.4 L287.0,216.3 L288.0,217.1 L289.0,217.9 L290.0,218.8 L291.0,219.6 L292.0,220.4 L293.0,221.3 L294.0,222.1 L295.0,223.0 L296.0,223.9 L297.0,224.7 L298.0,225.6 L299.0,226.4 L300.0,227.3 L301.0,228.1 L302.0,229.0 L303.0,229.9 L304.0,230.7 L305.0,231.5 L306.0,232.4 L307.0,233.2 L308.0,234.0 L309.0,234.8 L310.0,235.6 L311.0,236.4 L312.0,237.2 L313.0,238.0 L314.0,238.7 L315.0,239.5 L316.0,240.3 L317.0,241.0 L318.0,241.8 L319.0,242.5 L320.0,243.3 L321.0,244.0 L322.0,244.7 L323.0,245.5 L324.0,246.2 L325.0,246.9 L326.0,247.6 L327.0,248.3 L328.0,249.0 L329.0,249.7 L330.0,250.3 L331.0,251.0 L332.0,251.7 L333.0,252.3 L334.0,252.9 L335.0,253.6 L336.0,254.2 L337.0,254.9 L338.0,255.5 L339.0,256.1 L340.0,256.8 L341.0,257.4 L342.0,258.0 L343.0,258.6 L344.0,259.2 L345.0,259.8 L346.0,260.5 L347.0,261.1 L348.0,261.6 L349.0,262.2 L350.0,262.8 L351.0,263.4 L352.0,263.9 L353.0,264.5 L354.0,265.1 L355.0,265.6 L356.0,266.1 L357.0,266.6 L358.0,267.2 L359.0,267.7 L360.0,268.2 L361.0,268.6 L362.0,269.1 L363.0,269.6 L364.0,270.0 L365.0,270.4 L366.0,270.9 L367.0,271.3 L368.0,271.7 L369.0,272.1 L370.0,272.5 L371.0,272.9 L372.0,273.2 L373.0,273.6 L374.0,274.0 L375.0,274.3 L376.0,274.7 L377.0,275.0 L378.0,275.4 L379.0,275.7 L380.0,276.0 L381.0,276.4 L382.0,276.7 L383.0,277.0 L384.0,277.3 L385.0,277.6 L386.0,277.9 L387.0,278.2 L388.0,278.5 L389.0,278.8 L390.0,279.1 L391.0,279.4 L392.0,279.7 L393.0,279.9 L394.0,280.2 L395.0,280.5 L396.0,280.7 L397.0,281.0 L398.0,281.2 L399.0,281.5 L400.0,281.7 L401.0,282.0 L402.0,282.2 L403.0,282.4 L404.0,282.6 L404.5,282.8" fill="none" stroke="#0000ff" stroke-width="2.2"/>
<path d="M40.0,61.0 L41.0,61.5 L42.0,61.9 L43.0,62.4 L44.0,62.9 L45.0,63.3 L46.0,63.8 L47.0,64.3 L48.0,64.8 L49.0,65.2 L50.0,65.7 L51.0,66.2 L52.0,66.7 L53.0,67.1 L54.0,67.6 L55.0,68.1 L56.0,68.6 L57.0,69.1 L58.0,69.5 L59.0,70.0 L60.0,70.5 L61.0,71.0 L62.0,71.5 L63.0,72.0 L64.0,72.4 L65.0,72.9 L66.0,73.4 L67.0,73.9 L68.0,74.4 L69.0,74.9 L70.0,75.4 L71.0,75.9 L72.0,76.4 L73.0,76.9 L74.0,77.4 L75.0,77.9 L76.0,78.3 L77.0,78.8 L78.0,79.3 L79.0,79.8 L80.0,80.3 L81.0,80.8 L82.0,81.2 L83.0,81.7 L84.0,82.2 L85.0,82.7 L86.0,83.1 L87.0,83.6 L88.0,84.1 L89.0,84.6 L90.0,85.0 L91.0,85.5 L92.0,85.9 L93.0,86.4 L94.0,86.8 L95.0,87.3 L96.0,87.7 L97.0,88.2 L98.0,88.6 L99.0,89.0 L100.0,89.5 L101.0,89.9 L102.0,90.4 L103.0,90.8 L104.0,91.3 L105.0,91.8 L106.0,92.2 L107.0,92.7 L108.0,93.2 L109.0,93.7 L110.0,94.1 L111.0,94.6 L112.0,95.1 L113.0,95.6 L114.0,96.1 L115.0,96.6 L116.0,97.1 L117.0,97.6 L118.0,98.1 L119.0,98.6 L120.0,99.0 L121.0,99.5 L122.0,100.1 L123.0,100.6 L124.0,101.1 L125.0,101.6 L126.0,102.1 L127.0,102.6 L128.0,103.1 L129.0,103.6 L130.0,104.1 L131.0,104.6 L132.0,105.1 L133.0,105.6 L134.0,106.2 L135.0,106.7 L136.0,107.2 L137.0,107.7 L138.0,108.2 L139.0,108.8 L140.0,109.3 L141.0,109.8 L142.0,110.3 L143.0,110.9 L144.0,111.4 L145.0,111.9 L146.0,112.5 L147.0,113.0 L148.0,113.5 L149.0,114.1 L150.0,114.6 L151.0,115.1 L152.0,115.7 L153.0,116.2 L154.0,116.8 L155.0,117.3 L156.0,117.8 L157.0,118.4 L158.0,118.9 L159.0,119.5 L160.0,120.0 L161.0,120.5 L162.0,121.1 L163.0,121.6 L164.0,122.2 L165.0,122.7 L166.0,123.2 L167.0,123.8 L168.0,124.3 L169.0,124.8 L170.0,125.4 L171.0,125.9 L172.0,126.5 L173.0,127.0 L174.0,127.6 L175.0,128.1 L176.0,128.7 L177.0,129.2 L178.0,129.8 L179.0,130.4 L180.0,131.0 L181.0,131.6 L182.0,132.2 L183.0,132.8 L184.0,133.5 L185.0,134.1 L186.0,134.8 L187.0,135.5 L188.0,136.2 L189.0,136.8 L190.0,137.5 L191.0,138.2 L192.0,138.9 L193.0,139.6 L194.0,140.3 L195.0,140.9 L196.0,141.6 L197.0,142.2 L198.0,142.9 L199.0,143.5 L200.0,144.1 L201.0,144.7 L202.0,145.4 L203.0,146.0 L204.0,146.7 L205.0,147.3 L206.0,148.0 L207.0,148.7 L208.0,149.4 L209.0,150.1 L210.0,150.9 L211.0,151.7 L212.0,152.5 L213.0,153.3 L214.0,154.2 L215.0,155.0 L216.0,155.8 L217.0,156.7 L218.0,157.5 L219.0,158.4 L220.0,159.2 L221.0,160.0 L222.0,160.8 L223.0,161.6 L224.0,162.4 L225.0,163.2 L226.0,163.9 L227.0,164.7 L228.0,165.5 L229.0,166.2 L230.0,167.0 L231.0,167.8 L232.0,168.6 L233.0,169.3 L234.0,170.1 L235.0,170.9 L236.0,171.7 L237.0,172.5 L238.0,173.3 L239.0,174.1 L240.0,175.0" fill="none" stroke="#ec2e00" stroke-width="2"/>
<path d="M40.0,61.0 L41.0,61.5 L42.0,61.9 L43.0,62.4 L44.0,62.9 L45.0,63.3 L46.0,63.8 L47.0,64.3 L48.0,64.8 L49.0,65.2 L50.0,65.7 L51.0,66.2 L52.0,66.7 L53.0,67.1 L54.0,67.6 L55.0,68.1 L56.0,68.6 L57.0,69.1 L58.0,69.5 L59.0,70.0 L60.0,70.5 L61.0,71.0 L62.0,71.5 L63.0,72.0 L64.0,72.4 L65.0,72.9 L66.0,73.4 L67.0,73.9 L68.0,74.4 L69.0,74.9 L70.0,75.4 L71.0,75.9 L72.0,76.4 L73.0,76.9 L74.0,77.4 L75.0,77.9 L76.0,78.3 L77.0,78.8 L78.0,79.3 L79.0,79.8 L80.0,80.3 L81.0,80.8 L82.0,81.2 L83.0,81.7 L84.0,82.2 L85.0,82.7 L86.0,83.1 L87.0,83.6 L88.0,84.1 L89.0,84.6 L90.0,85.0 L91.0,85.5 L92.0,85.9 L93.0,86.4 L94.0,86.8 L95.0,87.3 L96.0,87.7 L97.0,88.2 L98.0,88.6 L99.0,89.0 L100.0,89.5 L101.0,89.9 L102.0,90.4 L103.0,90.8 L104.0,91.3 L105.0,91.8 L106.0,92.2 L107.0,92.7 L108.0,93.2 L109.0,93.7 L110.0,94.1 L111.0,94.6 L112.0,95.1 L113.0,95.6 L114.0,96.1 L115.0,96.6 L116.0,97.1 L117.0,97.6 L118.0,98.1 L119.0,98.6 L120.0,99.0 L121.0,99.5 L122.0,100.1 L123.0,100.6 L124.0,101.1 L125.0,101.6 L126.0,102.1 L127.0,102.6 L128.0,103.1 L129.0,103.6 L130.0,104.1 L131.0,104.6 L132.0,105.1 L133.0,105.6 L134.0,106.2 L135.0,106.7 L136.0,107.2 L137.0,107.7 L138.0,108.2 L139.0,108.8 L140.0,109.3 L141.0,109.8 L142.0,110.3 L143.0,110.9 L144.0,111.4 L145.0,111.9 L146.0,112.5 L147.0,113.0 L148.0,113.5 L149.0,114.1 L150.0,114.6 L151.0,115.1 L152.0,115.7 L153.0,116.2 L154.0,116.8 L155.0,117.3 L156.0,117.8 L157.0,118.4 L158.0,118.9 L159.0,119.5 L160.0,120.0 L161.0,120.5 L162.0,121.1 L163.0,121.6 L164.0,122.2 L165.0,122.7 L166.0,123.2 L167.0,123.8 L168.0,124.3 L169.0,124.8 L170.0,125.4 L171.0,125.9 L172.0,126.5 L173.0,127.0 L174.0,127.6 L175.0,128.1 L176.0,128.7 L177.0,129.2 L178.0,129.8 L179.0,130.4 L180.0,131.0 L181.0,131.6 L182.0,132.2 L183.0,132.8 L184.0,133.5 L185.0,134.1 L186.0,134.8 L187.0,135.5 L188.0,136.2 L189.0,136.8 L190.0,137.5 L191.0,138.2 L192.0,138.9 L193.0,139.6 L194.0,140.3 L195.0,140.9 L196.0,141.6 L197.0,142.2 L198.0,142.9 L199.0,143.5 L200.0,144.1 L201.0,144.7 L202.0,145.4 L203.0,146.0 L204.0,146.7 L205.0,147.3 L206.0,148.0 L207.0,148.7 L208.0,149.4 L209.0,150.1 L210.0,150.9 L211.0,151.7 L212.0,152.5 L213.0,153.3 L214.0,154.2 L215.0,155.0 L216.0,155.8 L217.0,156.7 L218.0,157.5 L219.0,158.4 L220.0,159.2 L221.0,160.0 L222.0,160.8 L223.0,161.6 L224.0,162.4 L225.0,163.2 L226.0,163.9 L227.0,164.7 L228.0,165.5 L229.0,166.2 L230.0,167.0 L231.0,167.8 L232.0,168.6 L233.0,169.3 L234.0,170.1 L235.0,170.9 L236.0,171.7 L237.0,172.5 L238.0,173.3 L239.0,174.1 L240.0,175.0" fill="none" stroke="#ec2e00" stroke-width="2.25"/>
<path d="M181.0,131.6 L182.0,132.2 L183.0,132.8 L184.0,133.5 L185.0,134.1 L186.0,134.8 L187.0,135.5 L188.0,136.2 L189.0,136.8 L190.0,137.5 L191.0,138.2 L192.0,138.9 L193.0,139.6 L194.0,140.3 L195.0,140.9 L196.0,141.6 L197.0,142.2 L198.0,142.9 L199.0,143.5 L200.0,144.1 L201.0,144.7 L202.0,145.4 L203.0,146.0 L204.0,146.7 L205.0,147.3 L206.0,148.0 L207.0,148.7 L208.0,149.4 L209.0,150.1 L210.0,150.9 L211.0,151.7 L212.0,152.5 L213.0,153.3 L214.0,154.2 L215.0,155.0 L216.0,155.8 L217.0,156.7 L218.0,157.5 L219.0,158.4 L220.0,159.2 L221.0,160.0 L222.0,160.8 L223.0,161.6 L224.0,162.4 L225.0,163.2 L226.0,163.9 L227.0,164.7 L228.0,165.5 L229.0,166.2 L230.0,167.0 L231.0,167.8 L232.0,168.6 L233.0,169.3 L234.0,170.1 L235.0,170.9 L236.0,171.7 L237.0,172.5 L238.0,173.3 L239.0,174.1 L240.0,175.0" fill="none" stroke="#ec2e00" stroke-width="2.5"/>
<path d="M240.0,175.0 L241.0,175.8 L242.0,176.7 L243.0,177.5 L244.0,178.4 L245.0,179.3 L246.0,180.2 L247.0,181.1 L248.0,181.9 L249.0,182.8 L250.0,183.7 L251.0,184.6 L252.0,185.6 L253.0,186.5 L254.0,187.4 L255.0,188.3 L256.0,189.2 L257.0,190.1 L258.0,191.1 L259.0,192.0 L260.0,192.9 L261.0,193.8 L262.0,194.8 L263.0,195.8 L264.0,196.7 L265.0,197.7 L266.0,198.6 L267.0,199.5 L268.0,200.4 L269.0,201.3 L270.0,202.2 L271.0,203.1 L272.0,203.9 L273.0,204.8 L274.0,205.6 L275.0,206.5 L276.0,207.3 L277.0,208.1 L278.0,208.9 L279.0,209.7 L280.0,210.6 L281.0,211.4 L282.0,212.2 L283.0,213.0 L284.0,213.8 L285.0,214.6 L286.0,215.4 L287.0,216.3 L288.0,217.1 L289.0,217.9 L290.0,218.8 L291.0,219.6 L292.0,220.4 L293.0,221.3 L294.0,222.1 L295.0,223.0 L296.0,223.9 L297.0,224.7 L298.0,225.6 L299.0,226.4 L300.0,227.3 L301.0,228.1 L302.0,229.0 L303.0,229.9 L304.0,230.7 L305.0,231.5 L306.0,232.4 L307.0,233.2 L308.0,234.0 L309.0,234.8 L310.0,235.6 L311.0,236.4 L312.0,237.2 L313.0,238.0 L314.0,238.7 L315.0,239.5 L316.0,240.3 L317.0,241.0 L318.0,241.8 L319.0,242.5 L320.0,243.3 L321.0,244.0 L322.0,244.7 L323.0,245.5 L324.0,246.2 L325.0,246.9 L326.0,247.6 L327.0,248.3 L328.0,249.0 L329.0,249.7 L330.0,250.3 L331.0,251.0 L332.0,251.7 L333.0,252.3 L334.0,252.9 L335.0,253.6 L336.0,254.2 L337.0,254.9 L338.0,255.5 L339.0,256.1 L340.0,256.8 L341.0,257.4 L342.0,258.0 L343.0,258.6 L344.0,259.2 L345.0,259.8 L346.0,260.5 L347.0,261.1 L348.0,261.6 L349.0,262.2 L350.0,262.8 L351.0,263.4 L352.0,263.9 L353.0,264.5 L354.0,265.1 L355.0,265.6 L356.0,266.1 L357.0,266.6 L358.0,267.2 L359.0,267.7 L360.0,268.2 L361.0,268.6 L362.0,269.1 L363.0,269.6 L364.0,270.0 L365.0,270.4 L366.0,270.9 L367.0,271.3 L368.0,271.7 L369.0,272.1 L370.0,272.5 L371.0,272.9 L372.0,273.2 L373.0,273.6 L374.0,274.0 L375.0,274.3 L376.0,274.7 L377.0,275.0 L378.0,275.4 L379.0,275.7 L380.0,276.0 L381.0,276.4 L382.0,276.7 L383.0,277.0 L384.0,277.3 L385.0,277.6 L386.0,277.9 L387.0,278.2 L388.0,278.5 L389.0,278.8 L390.0,279.1 L391.0,279.4 L392.0,279.7 L393.0,279.9 L394.0,280.2 L395.0,280.5 L396.0,280.7 L397.0,281.0 L398.0,281.2 L399.0,281.5 L400.0,281.7 L401.0,282.0 L402.0,282.2 L403.0,282.4 L404.0,282.6 L404.5,282.8" fill="none" stroke="#ec2e00" stroke-width="2.5" stroke-dasharray="3.2 0.8"/>
<path d="M40.0,116.7 L41.0,117.0 L42.0,117.3 L43.0,117.6 L44.0,117.9 L45.0,118.2 L46.0,118.5 L47.0,118.8 L48.0,119.1 L49.0,119.4 L50.0,119.7 L51.0,120.0 L52.0,120.3 L53.0,120.6 L54.0,120.9 L55.0,121.2 L56.0,121.5 L57.0,121.8 L58.0,122.1 L59.0,122.3 L60.0,122.6 L61.0,122.9 L62.0,123.2 L63.0,123.5 L64.0,123.8 L65.0,124.1 L66.0,124.4 L67.0,124.6 L68.0,124.9 L69.0,125.2 L70.0,125.4 L71.0,125.7 L72.0,125.9 L73.0,126.2 L74.0,126.4 L75.0,126.6 L76.0,126.8 L77.0,127.0 L78.0,127.2 L79.0,127.4 L80.0,127.5 L81.0,127.7 L82.0,127.9 L83.0,128.0 L84.0,128.1 L85.0,128.3 L86.0,128.4 L87.0,128.5 L88.0,128.7 L89.0,128.8 L90.0,128.9 L91.0,129.1 L92.0,129.2 L93.0,129.4 L94.0,129.5 L95.0,129.6 L96.0,129.8 L97.0,129.9 L98.0,130.1 L99.0,130.2 L100.0,130.3 L101.0,130.4 L102.0,130.5 L103.0,130.6 L104.0,130.7 L105.0,130.7 L106.0,130.8 L107.0,130.9 L108.0,130.9 L109.0,131.0 L110.0,131.0 L111.0,131.0 L112.0,131.1 L113.0,131.1 L114.0,131.2 L115.0,131.2 L116.0,131.3 L117.0,131.3 L118.0,131.4 L119.0,131.4 L120.0,131.5 L121.0,131.5 L122.0,131.6 L123.0,131.6 L124.0,131.7 L125.0,131.7 L126.0,131.7 L127.0,131.8 L128.0,131.8 L129.0,131.9 L130.0,131.9 L131.0,131.9 L132.0,132.0 L133.0,132.0 L134.0,132.0 L135.0,132.0 L136.0,132.1 L137.0,132.1 L138.0,132.1 L139.0,132.2 L140.0,132.2 L141.0,132.2 L142.0,132.2 L143.0,132.2 L144.0,132.3 L145.0,132.3 L146.0,132.3 L147.0,132.3 L148.0,132.4 L149.0,132.4 L150.0,132.4 L151.0,132.4 L152.0,132.5 L153.0,132.5 L154.0,132.5 L155.0,132.5 L156.0,132.6 L157.0,132.6 L158.0,132.6 L159.0,132.6 L160.0,132.6 L161.0,132.7 L162.0,132.7 L163.0,132.7 L164.0,132.7 L165.0,132.7 L166.0,132.8 L167.0,132.8 L168.0,132.8 L169.0,132.8 L170.0,132.9 L171.0,132.9 L172.0,132.9 L173.0,132.9 L174.0,133.0 L175.0,133.0 L176.0,133.0 L177.0,133.1 L178.0,133.1 L179.0,133.2 L180.0,133.2 L181.0,133.3 L182.0,133.3 L183.0,133.4 L184.0,133.4 L185.0,133.5 L186.0,133.7 L187.0,133.8 L188.0,133.9 L189.0,134.1 L190.0,134.2 L191.0,134.4 L192.0,134.6 L193.0,134.7 L194.0,134.9 L195.0,135.1 L196.0,135.3 L197.0,135.5 L198.0,135.7 L199.0,135.9 L200.0,136.1 L201.0,136.3 L202.0,136.5 L203.0,136.8 L204.0,137.0 L205.0,137.3 L206.0,137.5 L207.0,137.8 L208.0,138.1 L209.0,138.4 L210.0,138.7 L211.0,139.1 L212.0,139.4 L213.0,139.8 L214.0,140.2 L215.0,140.6 L216.0,141.0 L217.0,141.4 L218.0,141.8 L219.0,142.3 L220.0,142.7 L221.0,143.1 L222.0,143.5 L223.0,143.9 L224.0,144.3 L225.0,144.7 L226.0,145.1 L227.0,145.6 L228.0,146.0 L229.0,146.5 L230.0,146.9 L231.0,147.4 L232.0,147.9 L233.0,148.4 L234.0,148.9 L235.0,149.4 L236.0,150.0 L237.0,150.6 L238.0,151.2 L239.0,151.8 L240.0,152.4 L241.0,153.1 L242.0,153.8 L243.0,154.4 L244.0,155.1 L245.0,155.8 L246.0,156.5 L247.0,157.2 L248.0,157.9 L249.0,158.6 L250.0,159.3 L251.0,160.0 L252.0,160.7 L253.0,161.4 L254.0,162.1 L255.0,162.9 L256.0,163.6 L257.0,164.3 L258.0,165.1 L259.0,165.8 L260.0,166.6 L261.0,167.4 L262.0,168.1 L263.0,168.9 L264.0,169.7 L265.0,170.4 L266.0,171.2 L267.0,172.0 L268.0,172.8 L269.0,173.6 L270.0,174.3 L271.0,175.1 L272.0,175.9 L273.0,176.7 L274.0,177.6 L275.0,178.4 L276.0,179.2 L277.0,180.0 L278.0,180.8 L279.0,181.7 L280.0,182.5 L281.0,183.3 L282.0,184.2 L283.0,185.1 L284.0,186.0 L285.0,186.8 L286.0,187.7 L287.0,188.6 L288.0,189.5 L289.0,190.5 L290.0,191.4 L291.0,192.3 L292.0,193.2 L293.0,194.1 L294.0,195.0 L295.0,195.9 L296.0,196.8 L297.0,197.7 L298.0,198.5 L299.0,199.4 L300.0,200.3 L301.0,201.1 L302.0,201.9 L303.0,202.7 L304.0,203.5 L305.0,204.3 L306.0,205.1 L307.0,205.9 L308.0,206.7 L309.0,207.5 L310.0,208.3 L311.0,209.2 L312.0,210.0 L313.0,210.9 L314.0,211.7 L315.0,212.6 L316.0,213.5 L317.0,214.4 L318.0,215.3 L319.0,216.2 L320.0,217.1 L321.0,218.0 L322.0,218.9 L323.0,219.8 L324.0,220.7 L325.0,221.6 L326.0,222.5 L327.0,223.4 L328.0,224.3 L329.0,225.2 L330.0,226.0 L331.0,226.9 L332.0,227.7 L333.0,228.6 L334.0,229.4 L335.0,230.3 L336.0,231.1 L337.0,232.0 L338.0,232.8 L339.0,233.6 L340.0,234.5 L341.0,235.3 L342.0,236.1 L343.0,236.9 L344.0,237.7 L345.0,238.5 L346.0,239.2 L347.0,240.0 L348.0,240.8 L349.0,241.5 L350.0,242.2 L351.0,243.0 L352.0,243.7 L353.0,244.4 L354.0,245.1 L355.0,245.8 L356.0,246.5 L357.0,247.2 L358.0,247.9 L359.0,248.6 L360.0,249.2 L361.0,249.9 L362.0,250.6 L363.0,251.2 L364.0,251.9 L365.0,252.6 L366.0,253.2 L367.0,253.8 L368.0,254.5 L369.0,255.1 L370.0,255.7 L371.0,256.3 L372.0,257.0 L373.0,257.6 L374.0,258.2 L375.0,258.8 L376.0,259.3 L377.0,259.9 L378.0,260.5 L379.0,261.1 L380.0,261.6 L381.0,262.2 L382.0,262.8 L383.0,263.3 L384.0,263.9 L385.0,264.4 L386.0,265.0 L387.0,265.5 L388.0,266.0 L389.0,266.5 L390.0,267.0 L391.0,267.5 L392.0,268.0 L393.0,268.5 L394.0,268.9 L395.0,269.4 L396.0,269.9 L397.0,270.3 L398.0,270.8 L399.0,271.2 L400.0,271.6 L401.0,272.1 L402.0,272.5 L403.0,272.9 L404.0,273.3 L404.5,273.5" fill="none" stroke="#008000" stroke-width="2"/>
<path d="M40.0,116.7 L41.0,117.0 L42.0,117.3 L43.0,117.6 L44.0,117.9 L45.0,118.2 L46.0,118.5 L47.0,118.8 L48.0,119.1 L49.0,119.4 L50.0,119.7 L51.0,120.0 L52.0,120.3 L53.0,120.6 L54.0,120.9 L55.0,121.2 L56.0,121.5 L57.0,121.8 L58.0,122.1 L59.0,122.3 L60.0,122.6 L61.0,122.9 L62.0,123.2 L63.0,123.5 L64.0,123.8 L65.0,124.1 L66.0,124.4 L67.0,124.6 L68.0,124.9 L69.0,125.2 L70.0,125.4" fill="none" stroke="#008000" stroke-width="2.25"/>
<path d="M204.0,137.0 L205.0,137.3 L206.0,137.5 L207.0,137.8 L208.0,138.1 L209.0,138.4 L210.0,138.7 L211.0,139.1 L212.0,139.4 L213.0,139.8 L214.0,140.2 L215.0,140.6 L216.0,141.0 L217.0,141.4 L218.0,141.8 L219.0,142.3 L220.0,142.7 L221.0,143.1 L222.0,143.5 L223.0,143.9 L224.0,144.3 L225.0,144.7 L226.0,145.1 L227.0,145.6 L228.0,146.0 L229.0,146.5 L230.0,146.9 L231.0,147.4 L232.0,147.9 L233.0,148.4 L234.0,148.9 L235.0,149.4 L236.0,150.0 L237.0,150.6 L238.0,151.2 L239.0,151.8 L240.0,152.4 L241.0,153.1 L242.0,153.8 L243.0,154.4 L244.0,155.1 L245.0,155.8 L246.0,156.5 L247.0,157.2 L248.0,157.9 L249.0,158.6 L250.0,159.3 L251.0,160.0 L252.0,160.7 L253.0,161.4 L254.0,162.1 L255.0,162.9 L256.0,163.6 L257.0,164.3 L258.0,165.1 L259.0,165.8 L260.0,166.6 L261.0,167.4 L262.0,168.1 L263.0,168.9 L264.0,169.7 L265.0,170.4 L266.0,171.2 L267.0,172.0 L268.0,172.8 L269.0,173.6 L270.0,174.3 L271.0,175.1 L272.0,175.9 L273.0,176.7 L274.0,177.6 L275.0,178.4 L276.0,179.2 L277.0,180.0 L278.0,180.8 L279.0,181.7 L280.0,182.5 L281.0,183.3 L282.0,184.2 L283.0,185.1 L284.0,186.0 L285.0,186.8 L286.0,187.7 L287.0,188.6 L288.0,189.5 L289.0,190.5 L290.0,191.4 L291.0,192.3 L292.0,193.2 L293.0,194.1 L294.0,195.0 L295.0,195.9 L296.0,196.8 L297.0,197.7 L298.0,198.5 L299.0,199.4 L300.0,200.3 L301.0,201.1 L302.0,201.9 L303.0,202.7 L304.0,203.5 L305.0,204.3 L306.0,205.1 L307.0,205.9 L308.0,206.7 L309.0,207.5 L310.0,208.3 L311.0,209.2 L312.0,210.0 L313.0,210.9 L314.0,211.7 L315.0,212.6 L316.0,213.5 L317.0,214.4 L318.0,215.3 L319.0,216.2 L320.0,217.1 L321.0,218.0 L322.0,218.9 L323.0,219.8 L324.0,220.7 L325.0,221.6 L326.0,222.5 L327.0,223.4 L328.0,224.3 L329.0,225.2 L330.0,226.0 L331.0,226.9 L332.0,227.7 L333.0,228.6 L334.0,229.4 L335.0,230.3 L336.0,231.1 L337.0,232.0 L338.0,232.8 L339.0,233.6 L340.0,234.5 L341.0,235.3 L342.0,236.1 L343.0,236.9 L344.0,237.7 L345.0,238.5 L346.0,239.2 L347.0,240.0 L348.0,240.8 L349.0,241.5 L350.0,242.2 L351.0,243.0 L352.0,243.7 L353.0,244.4 L354.0,245.1 L355.0,245.8 L356.0,246.5 L357.0,247.2 L358.0,247.9 L359.0,248.6 L360.0,249.2 L361.0,249.9 L362.0,250.6 L363.0,251.2 L364.0,251.9 L365.0,252.6 L366.0,253.2 L367.0,253.8 L368.0,254.5 L369.0,255.1 L370.0,255.7 L371.0,256.3 L372.0,257.0 L373.0,257.6 L374.0,258.2 L375.0,258.8 L376.0,259.3 L377.0,259.9 L378.0,260.5 L379.0,261.1 L380.0,261.6 L381.0,262.2 L382.0,262.8 L383.0,263.3 L384.0,263.9 L385.0,264.4 L386.0,265.0 L387.0,265.5 L388.0,266.0 L389.0,266.5 L390.0,267.0 L391.0,267.5 L392.0,268.0 L393.0,268.5 L394.0,268.9 L395.0,269.4 L396.0,269.9 L397.0,270.3 L398.0,270.8 L399.0,271.2 L400.0,271.6 L401.0,272.1 L402.0,272.5 L403.0,272.9 L404.0,273.3 L404.5,273.5" fill="none" stroke="#008000" stroke-width="2.25"/>
<path d="M238.0,151.2 L239.0,151.8 L240.0,152.4 L241.0,153.1 L242.0,153.8 L243.0,154.4 L244.0,155.1 L245.0,155.8 L246.0,156.5 L247.0,157.2 L248.0,157.9 L249.0,158.6 L250.0,159.3 L251.0,160.0 L252.0,160.7 L253.0,161.4 L254.0,162.1 L255.0,162.9 L256.0,163.6 L257.0,164.3 L258.0,165.1 L259.0,165.8 L260.0,166.6 L261.0,167.4 L262.0,168.1 L263.0,168.9 L264.0,169.7 L265.0,170.4 L266.0,171.2 L267.0,172.0 L268.0,172.8 L269.0,173.6 L270.0,174.3 L271.0,175.1 L272.0,175.9 L273.0,176.7 L274.0,177.6 L275.0,178.4 L276.0,179.2 L277.0,180.0 L278.0,180.8 L279.0,181.7 L280.0,182.5 L281.0,183.3 L282.0,184.2 L283.0,185.1 L284.0,186.0 L285.0,186.8 L286.0,187.7 L287.0,188.6 L288.0,189.5 L289.0,190.5 L290.0,191.4 L291.0,192.3 L292.0,193.2 L293.0,194.1 L294.0,195.0 L295.0,195.9 L296.0,196.8 L297.0,197.7 L298.0,198.5 L299.0,199.4 L300.0,200.3 L301.0,201.1 L302.0,201.9 L303.0,202.7 L304.0,203.5 L305.0,204.3 L306.0,205.1 L307.0,205.9 L308.0,206.7 L309.0,207.5 L310.0,208.3 L311.0,209.2 L312.0,210.0 L313.0,210.9 L314.0,211.7 L315.0,212.6 L316.0,213.5 L317.0,214.4 L318.0,215.3 L319.0,216.2 L320.0,217.1 L321.0,218.0 L322.0,218.9 L323.0,219.8 L324.0,220.7 L325.0,221.6 L326.0,222.5 L327.0,223.4 L328.0,224.3 L329.0,225.2 L330.0,226.0 L331.0,226.9 L332.0,227.7 L333.0,228.6 L334.0,229.4 L335.0,230.3 L336.0,231.1 L337.0,232.0 L338.0,232.8 L339.0,233.6 L340.0,234.5 L341.0,235.3 L342.0,236.1 L343.0,236.9 L344.0,237.7 L345.0,238.5 L346.0,239.2 L347.0,240.0 L348.0,240.8 L349.0,241.5 L350.0,242.2 L351.0,243.0 L352.0,243.7 L353.0,244.4 L354.0,245.1 L355.0,245.8 L356.0,246.5 L357.0,247.2 L358.0,247.9 L359.0,248.6 L360.0,249.2 L361.0,249.9 L362.0,250.6 L363.0,251.2 L364.0,251.9 L365.0,252.6 L366.0,253.2 L367.0,253.8 L368.0,254.5 L369.0,255.1 L370.0,255.7 L371.0,256.3 L372.0,257.0 L373.0,257.6" fill="none" stroke="#008000" stroke-width="2.5"/>
</g>
<!-- blue dotted gaps -->
<g shape-rendering="crispEdges" fill="#000">
<rect x="61" y="63" width="1" height="4"/>
<rect x="61" y="83" width="1" height="4"/>
<rect x="61" y="131" width="1" height="4"/>
<rect x="320" y="145" width="2" height="2"/>
<rect x="314" y="165" width="2" height="2"/>
<rect x="304" y="203" width="2" height="2"/>
</g>
<!-- legend -->
<g>
<rect x="63" y="205" width="119" height="52" fill="#fff" shape-rendering="crispEdges"/>
<rect x="61" y="203" width="1" height="1" fill="#fff" shape-rendering="crispEdges"/>
<rect x="183" y="203" width="1" height="1" fill="#fff" shape-rendering="crispEdges"/>
<rect x="61" y="258" width="1" height="1" fill="#fff" shape-rendering="crispEdges"/>
<rect x="183" y="258" width="1" height="1" fill="#fff" shape-rendering="crispEdges"/>
<line x1="65" y1="214.4" x2="81" y2="214.4" stroke="#0000ff" stroke-width="1.2" stroke-dasharray="1 0.8"/>
<line x1="65" y1="232.8" x2="81" y2="232.8" stroke="#f03000" stroke-width="1.2" stroke-dasharray="3 1"/>
<line x1="65" y1="249.8" x2="81" y2="249.8" stroke="#008000" stroke-width="1.3"/>
<text class="t" x="82.7" y="215.7" font-size="10.4">mmW only (</text><text class="t" x="137.5" y="215.7" font-size="10.4" textLength="5.2" lengthAdjust="spacingAndGlyphs">τ</text><text class="t" x="142.9" y="221.3" font-size="8.8">0</text><text class="t" x="150.3" y="215.7" font-size="10.4">= 0.1)</text>
<text class="t" x="82.7" y="234.7" font-size="10.4">mmW only (</text><text class="t" x="137.5" y="234.7" font-size="10.4" textLength="5.2" lengthAdjust="spacingAndGlyphs">τ</text><text class="t" x="142.9" y="240.3" font-size="8.8">0</text><text class="t" x="150.3" y="234.7" font-size="10.4">= 0)</text>
<text class="t" x="82.7" y="254.0" font-size="10.4">mmW+µW</text>
</g>
<!-- annotation -->
<rect x="204" y="253" width="171" height="16" fill="#fff" shape-rendering="crispEdges"/>
<text class="t" x="205.5" y="264.6" font-size="10.5">λ = 50, 80, 100 mmW BS per sq. km</text>
</svg>
</body></html>
